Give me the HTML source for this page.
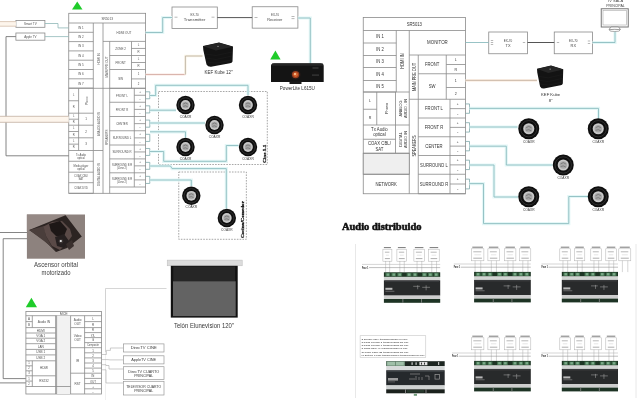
<!DOCTYPE html>
<html><head><meta charset="utf-8"><style>
html,body{margin:0;padding:0;background:#fff;width:640px;height:400px;overflow:hidden}
svg{display:block;filter:blur(0.35px)}

</style></head><body>
<svg width="640" height="400" viewBox="0 0 640 400">
<rect width="640" height="400" fill="#fff"/>
<rect x="68.75" y="13.3" width="76.85" height="180.0" fill="none" stroke="#8a8a8a" stroke-width="0.8" />
<line x1="68.75" y1="23" x2="145.6" y2="23" stroke="#8a8a8a" stroke-width="0.8" />
<text x="107.175" y="19.83" font-size="3.84" fill="#505050" text-anchor="middle" font-family="Liberation Sans"  textLength="11.56" lengthAdjust="spacingAndGlyphs">SR5013</text>
<line x1="68.75" y1="32.3" x2="93.3" y2="32.3" stroke="#8a8a8a" stroke-width="0.8" />
<text x="81" y="28.82" font-size="3.6" fill="#505050" text-anchor="middle" font-family="Liberation Sans"  textLength="5.50" lengthAdjust="spacingAndGlyphs">IN 1</text>
<line x1="68.75" y1="41.6" x2="93.3" y2="41.6" stroke="#8a8a8a" stroke-width="0.8" />
<text x="81" y="38.12" font-size="3.6" fill="#505050" text-anchor="middle" font-family="Liberation Sans"  textLength="5.50" lengthAdjust="spacingAndGlyphs">IN 2</text>
<line x1="68.75" y1="50.900000000000006" x2="93.3" y2="50.900000000000006" stroke="#8a8a8a" stroke-width="0.8" />
<text x="81" y="47.42" font-size="3.6" fill="#505050" text-anchor="middle" font-family="Liberation Sans"  textLength="5.50" lengthAdjust="spacingAndGlyphs">IN 3</text>
<line x1="68.75" y1="60.2" x2="93.3" y2="60.2" stroke="#8a8a8a" stroke-width="0.8" />
<text x="81" y="56.72" font-size="3.6" fill="#505050" text-anchor="middle" font-family="Liberation Sans"  textLength="5.50" lengthAdjust="spacingAndGlyphs">IN 4</text>
<line x1="68.75" y1="69.5" x2="93.3" y2="69.5" stroke="#8a8a8a" stroke-width="0.8" />
<text x="81" y="66.02" font-size="3.6" fill="#505050" text-anchor="middle" font-family="Liberation Sans"  textLength="5.50" lengthAdjust="spacingAndGlyphs">IN 5</text>
<line x1="68.75" y1="78.80000000000001" x2="93.3" y2="78.80000000000001" stroke="#8a8a8a" stroke-width="0.8" />
<text x="81" y="75.32" font-size="3.6" fill="#505050" text-anchor="middle" font-family="Liberation Sans"  textLength="5.50" lengthAdjust="spacingAndGlyphs">IN 6</text>
<line x1="68.75" y1="88.10000000000001" x2="93.3" y2="88.10000000000001" stroke="#8a8a8a" stroke-width="0.8" />
<text x="81" y="84.62" font-size="3.6" fill="#505050" text-anchor="middle" font-family="Liberation Sans"  textLength="5.50" lengthAdjust="spacingAndGlyphs">IN 7</text>
<line x1="93.3" y1="23" x2="93.3" y2="193.3" stroke="#8a8a8a" stroke-width="0.8" />
<line x1="103" y1="23" x2="103" y2="193.3" stroke="#8a8a8a" stroke-width="0.8" />
<text x="0" y="1.3" font-size="3.6" fill="#505050" text-anchor="middle" font-family="Liberation Sans" transform="translate(98.4,59) rotate(-90)"  textLength="11.50" lengthAdjust="spacingAndGlyphs">HDMI IN</text>
<line x1="103" y1="41.4" x2="145.6" y2="41.4" stroke="#8a8a8a" stroke-width="0.8" />
<text x="124" y="33.72" font-size="3.6" fill="#505050" text-anchor="middle" font-family="Liberation Sans"  textLength="14.83" lengthAdjust="spacingAndGlyphs">HDMI OUT</text>
<line x1="109.7" y1="41.4" x2="109.7" y2="193.3" stroke="#8a8a8a" stroke-width="0.8" />
<text x="0" y="1.25" font-size="3.48" fill="#505050" text-anchor="middle" font-family="Liberation Sans" transform="translate(106.6,67) rotate(-90)"  textLength="20.95" lengthAdjust="spacingAndGlyphs">MAIN PRE OUT</text>
<line x1="131.5" y1="41.4" x2="131.5" y2="88.3" stroke="#8a8a8a" stroke-width="0.8" />
<line x1="109.7" y1="55.5" x2="145.6" y2="55.5" stroke="#8a8a8a" stroke-width="0.8" />
<text x="120.6" y="49.77" font-size="3.6" fill="#505050" text-anchor="middle" font-family="Liberation Sans"  textLength="10.84" lengthAdjust="spacingAndGlyphs">ZONE 2</text>
<line x1="131.5" y1="48.45" x2="145.6" y2="48.45" stroke="#8a8a8a" stroke-width="0.8" />
<text x="138.5" y="46.025" font-size="2.8" fill="#505050" text-anchor="middle" font-family="Liberation Sans" >L</text>
<text x="138.5" y="53.075" font-size="2.8" fill="#505050" text-anchor="middle" font-family="Liberation Sans" >R</text>
<line x1="109.7" y1="69.5" x2="145.6" y2="69.5" stroke="#8a8a8a" stroke-width="0.8" />
<text x="120.6" y="63.82" font-size="3.6" fill="#505050" text-anchor="middle" font-family="Liberation Sans"  textLength="10.33" lengthAdjust="spacingAndGlyphs">FRONT</text>
<line x1="131.5" y1="62.5" x2="145.6" y2="62.5" stroke="#8a8a8a" stroke-width="0.8" />
<text x="138.5" y="60.1" font-size="2.8" fill="#505050" text-anchor="middle" font-family="Liberation Sans" >L</text>
<text x="138.5" y="67.1" font-size="2.8" fill="#505050" text-anchor="middle" font-family="Liberation Sans" >R</text>
<line x1="109.7" y1="88.3" x2="145.6" y2="88.3" stroke="#8a8a8a" stroke-width="0.8" />
<text x="120.6" y="80.22" font-size="3.6" fill="#505050" text-anchor="middle" font-family="Liberation Sans"  textLength="4.83" lengthAdjust="spacingAndGlyphs">SW</text>
<line x1="131.5" y1="78.9" x2="145.6" y2="78.9" stroke="#8a8a8a" stroke-width="0.8" />
<text x="138.5" y="75.3" font-size="2.8" fill="#505050" text-anchor="middle" font-family="Liberation Sans" >1</text>
<text x="138.5" y="84.69999999999999" font-size="2.8" fill="#505050" text-anchor="middle" font-family="Liberation Sans" >2</text>
<line x1="68.75" y1="88.3" x2="145.6" y2="88.3" stroke="#8a8a8a" stroke-width="0.8" />
<line x1="78.6" y1="88.3" x2="78.6" y2="150.5" stroke="#8a8a8a" stroke-width="0.8" />
<line x1="68.75" y1="113.2" x2="93.3" y2="113.2" stroke="#8a8a8a" stroke-width="0.8" />
<line x1="68.75" y1="100.75" x2="78.6" y2="100.75" stroke="#8a8a8a" stroke-width="0.8" />
<text x="73.7" y="95.625" font-size="2.6" fill="#505050" text-anchor="middle" font-family="Liberation Sans" >L</text>
<text x="73.7" y="108.07499999999999" font-size="2.6" fill="#505050" text-anchor="middle" font-family="Liberation Sans" >R</text>
<text x="0" y="1.3" font-size="3.6" fill="#505050" text-anchor="middle" font-family="Liberation Sans" transform="translate(86.5,100.75) rotate(-90)"  textLength="8.68" lengthAdjust="spacingAndGlyphs">Phono</text>
<line x1="68.75" y1="125.2" x2="93.3" y2="125.2" stroke="#8a8a8a" stroke-width="0.8" />
<line x1="68.75" y1="119.2" x2="78.6" y2="119.2" stroke="#8a8a8a" stroke-width="0.8" />
<text x="73.7" y="117.3" font-size="2.6" fill="#505050" text-anchor="middle" font-family="Liberation Sans" >L</text>
<text x="73.7" y="123.3" font-size="2.6" fill="#505050" text-anchor="middle" font-family="Liberation Sans" >R</text>
<text x="86" y="120.3" font-size="3" fill="#505050" text-anchor="middle" font-family="Liberation Sans" >1</text>
<line x1="68.75" y1="137.8" x2="93.3" y2="137.8" stroke="#8a8a8a" stroke-width="0.8" />
<line x1="68.75" y1="131.5" x2="78.6" y2="131.5" stroke="#8a8a8a" stroke-width="0.8" />
<text x="73.7" y="129.45" font-size="2.6" fill="#505050" text-anchor="middle" font-family="Liberation Sans" >L</text>
<text x="73.7" y="135.75" font-size="2.6" fill="#505050" text-anchor="middle" font-family="Liberation Sans" >R</text>
<text x="86" y="132.6" font-size="3" fill="#505050" text-anchor="middle" font-family="Liberation Sans" >2</text>
<line x1="68.75" y1="150.5" x2="93.3" y2="150.5" stroke="#8a8a8a" stroke-width="0.8" />
<line x1="68.75" y1="144.15" x2="78.6" y2="144.15" stroke="#8a8a8a" stroke-width="0.8" />
<text x="73.7" y="142.07500000000002" font-size="2.6" fill="#505050" text-anchor="middle" font-family="Liberation Sans" >L</text>
<text x="73.7" y="148.42499999999998" font-size="2.6" fill="#505050" text-anchor="middle" font-family="Liberation Sans" >R</text>
<text x="86" y="145.25" font-size="3" fill="#505050" text-anchor="middle" font-family="Liberation Sans" >3</text>
<line x1="68.75" y1="161.25" x2="93.3" y2="161.25" stroke="#8a8a8a" stroke-width="0.8" />
<text x="81" y="155.66" font-size="3.12" fill="#505050" text-anchor="middle" font-family="Liberation Sans"  textLength="10.12" lengthAdjust="spacingAndGlyphs">Tx Audio</text>
<text x="81" y="158.86" font-size="3.12" fill="#505050" text-anchor="middle" font-family="Liberation Sans"  textLength="7.52" lengthAdjust="spacingAndGlyphs">optical</text>
<line x1="68.75" y1="172.2" x2="93.3" y2="172.2" stroke="#8a8a8a" stroke-width="0.8" />
<text x="81" y="166.51" font-size="3.12" fill="#505050" text-anchor="middle" font-family="Liberation Sans"  textLength="14.89" lengthAdjust="spacingAndGlyphs">Media player</text>
<text x="81" y="169.71" font-size="3.12" fill="#505050" text-anchor="middle" font-family="Liberation Sans"  textLength="7.52" lengthAdjust="spacingAndGlyphs">optical</text>
<line x1="68.75" y1="182.7" x2="93.3" y2="182.7" stroke="#8a8a8a" stroke-width="0.8" />
<text x="81" y="177.24" font-size="3.12" fill="#505050" text-anchor="middle" font-family="Liberation Sans"  textLength="13.87" lengthAdjust="spacingAndGlyphs">COAX CBL/</text>
<text x="81" y="180.44" font-size="3.12" fill="#505050" text-anchor="middle" font-family="Liberation Sans"  textLength="4.86" lengthAdjust="spacingAndGlyphs">SAT</text>
<line x1="68.75" y1="193.3" x2="93.3" y2="193.3" stroke="#8a8a8a" stroke-width="0.8" />
<text x="81" y="189.29" font-size="3.12" fill="#505050" text-anchor="middle" font-family="Liberation Sans"  textLength="13.58" lengthAdjust="spacingAndGlyphs">COAX DVD</text>
<line x1="93.3" y1="150.5" x2="103" y2="150.5" stroke="#8a8a8a" stroke-width="0.8" />
<text x="0" y="1.17" font-size="3.24" fill="#505050" text-anchor="middle" font-family="Liberation Sans" transform="translate(98.6,124) rotate(-90)"  textLength="23.86" lengthAdjust="spacingAndGlyphs">ANALOG AUDIO IN</text>
<text x="0" y="1.17" font-size="3.24" fill="#505050" text-anchor="middle" font-family="Liberation Sans" transform="translate(98.6,174.5) rotate(-90)"  textLength="22.80" lengthAdjust="spacingAndGlyphs">DIGITAL AUDIO IN</text>
<text x="0" y="1.25" font-size="3.48" fill="#505050" text-anchor="middle" font-family="Liberation Sans" transform="translate(106.6,137.5) rotate(-90)"  textLength="15.64" lengthAdjust="spacingAndGlyphs">SPEAKERS</text>
<line x1="134.3" y1="88.3" x2="134.3" y2="187" stroke="#8a8a8a" stroke-width="0.8" />
<line x1="109.7" y1="102.25" x2="145.6" y2="102.25" stroke="#8a8a8a" stroke-width="0.8" />
<line x1="134.3" y1="95.275" x2="145.6" y2="95.275" stroke="#8a8a8a" stroke-width="0.8" />
<text x="140" y="92.88749999999999" font-size="2.8" fill="#505050" text-anchor="middle" font-family="Liberation Sans" >+</text>
<text x="140" y="99.8625" font-size="2.8" fill="#505050" text-anchor="middle" font-family="Liberation Sans" >-</text>
<text x="122" y="96.58" font-size="3.36" fill="#505050" text-anchor="middle" font-family="Liberation Sans"  textLength="11.93" lengthAdjust="spacingAndGlyphs">FRONT L</text>
<line x1="109.7" y1="116.5" x2="145.6" y2="116.5" stroke="#8a8a8a" stroke-width="0.8" />
<line x1="134.3" y1="109.375" x2="145.6" y2="109.375" stroke="#8a8a8a" stroke-width="0.8" />
<text x="140" y="106.9125" font-size="2.8" fill="#505050" text-anchor="middle" font-family="Liberation Sans" >+</text>
<text x="140" y="114.0375" font-size="2.8" fill="#505050" text-anchor="middle" font-family="Liberation Sans" >-</text>
<text x="122" y="110.68" font-size="3.36" fill="#505050" text-anchor="middle" font-family="Liberation Sans"  textLength="12.39" lengthAdjust="spacingAndGlyphs">FRONT R</text>
<line x1="109.7" y1="130.75" x2="145.6" y2="130.75" stroke="#8a8a8a" stroke-width="0.8" />
<line x1="134.3" y1="123.625" x2="145.6" y2="123.625" stroke="#8a8a8a" stroke-width="0.8" />
<text x="140" y="121.1625" font-size="2.8" fill="#505050" text-anchor="middle" font-family="Liberation Sans" >+</text>
<text x="140" y="128.2875" font-size="2.8" fill="#505050" text-anchor="middle" font-family="Liberation Sans" >-</text>
<text x="122" y="124.93" font-size="3.36" fill="#505050" text-anchor="middle" font-family="Liberation Sans"  textLength="11.51" lengthAdjust="spacingAndGlyphs">CENTER</text>
<line x1="109.7" y1="145" x2="145.6" y2="145" stroke="#8a8a8a" stroke-width="0.8" />
<line x1="134.3" y1="137.875" x2="145.6" y2="137.875" stroke="#8a8a8a" stroke-width="0.8" />
<text x="140" y="135.4125" font-size="2.8" fill="#505050" text-anchor="middle" font-family="Liberation Sans" >+</text>
<text x="140" y="142.5375" font-size="2.8" fill="#505050" text-anchor="middle" font-family="Liberation Sans" >-</text>
<text x="122" y="139.18" font-size="3.36" fill="#505050" text-anchor="middle" font-family="Liberation Sans"  textLength="18.51" lengthAdjust="spacingAndGlyphs">SURROUND L</text>
<line x1="109.7" y1="158.9" x2="145.6" y2="158.9" stroke="#8a8a8a" stroke-width="0.8" />
<line x1="134.3" y1="151.95" x2="145.6" y2="151.95" stroke="#8a8a8a" stroke-width="0.8" />
<text x="140" y="149.575" font-size="2.8" fill="#505050" text-anchor="middle" font-family="Liberation Sans" >+</text>
<text x="140" y="156.525" font-size="2.8" fill="#505050" text-anchor="middle" font-family="Liberation Sans" >-</text>
<text x="122" y="153.25" font-size="3.36" fill="#505050" text-anchor="middle" font-family="Liberation Sans"  textLength="18.98" lengthAdjust="spacingAndGlyphs">SURROUND R</text>
<line x1="109.7" y1="172.8" x2="145.6" y2="172.8" stroke="#8a8a8a" stroke-width="0.8" />
<line x1="134.3" y1="165.85000000000002" x2="145.6" y2="165.85000000000002" stroke="#8a8a8a" stroke-width="0.8" />
<text x="140" y="163.475" font-size="2.8" fill="#505050" text-anchor="middle" font-family="Liberation Sans" >+</text>
<text x="140" y="170.425" font-size="2.8" fill="#505050" text-anchor="middle" font-family="Liberation Sans" >-</text>
<text x="122" y="165.64" font-size="3.12" fill="#505050" text-anchor="middle" font-family="Liberation Sans"  textLength="20.08" lengthAdjust="spacingAndGlyphs">SURROUND B R</text>
<text x="122" y="168.84" font-size="3.12" fill="#505050" text-anchor="middle" font-family="Liberation Sans"  textLength="9.83" lengthAdjust="spacingAndGlyphs">(Zone 2)</text>
<line x1="109.7" y1="187" x2="145.6" y2="187" stroke="#8a8a8a" stroke-width="0.8" />
<line x1="134.3" y1="179.9" x2="145.6" y2="179.9" stroke="#8a8a8a" stroke-width="0.8" />
<text x="140" y="177.45000000000002" font-size="2.8" fill="#505050" text-anchor="middle" font-family="Liberation Sans" >+</text>
<text x="140" y="184.54999999999998" font-size="2.8" fill="#505050" text-anchor="middle" font-family="Liberation Sans" >-</text>
<text x="122" y="179.69" font-size="3.12" fill="#505050" text-anchor="middle" font-family="Liberation Sans"  textLength="20.08" lengthAdjust="spacingAndGlyphs">SURROUND B R</text>
<text x="122" y="182.89" font-size="3.12" fill="#505050" text-anchor="middle" font-family="Liberation Sans"  textLength="9.83" lengthAdjust="spacingAndGlyphs">(Zone 2)</text>
<polyline points="145.6,91.7875 149.79999999999998,91.7875 149.79999999999998,98.7625 145.6,98.7625" fill="none" stroke="#7fa9ab" stroke-width="0.8" />
<polyline points="145.6,105.8125 149.79999999999998,105.8125 149.79999999999998,112.9375 145.6,112.9375" fill="none" stroke="#7fa9ab" stroke-width="0.8" />
<polyline points="145.6,120.0625 149.79999999999998,120.0625 149.79999999999998,127.1875 145.6,127.1875" fill="none" stroke="#7fa9ab" stroke-width="0.8" />
<polyline points="145.6,134.3125 149.79999999999998,134.3125 149.79999999999998,141.4375 145.6,141.4375" fill="none" stroke="#7fa9ab" stroke-width="0.8" />
<polyline points="145.6,148.475 149.79999999999998,148.475 149.79999999999998,155.425 145.6,155.425" fill="none" stroke="#7fa9ab" stroke-width="0.8" />
<polyline points="145.6,162.375 149.79999999999998,162.375 149.79999999999998,169.32500000000002 145.6,169.32500000000002" fill="none" stroke="#7fa9ab" stroke-width="0.8" />
<polyline points="145.6,176.35000000000002 149.79999999999998,176.35000000000002 149.79999999999998,183.45 145.6,183.45" fill="none" stroke="#7fa9ab" stroke-width="0.8" />
<rect x="15.9" y="20.5" width="29" height="6.8" fill="none" stroke="#8a8a8a" stroke-width="0.8" />
<text x="30.4" y="25.42" font-size="3.6" fill="#505050" text-anchor="middle" font-family="Liberation Sans"  textLength="12.61" lengthAdjust="spacingAndGlyphs">Smart TV</text>
<rect x="15.9" y="33" width="29" height="7.2" fill="none" stroke="#8a8a8a" stroke-width="0.8" />
<text x="30.4" y="38.12" font-size="3.6" fill="#505050" text-anchor="middle" font-family="Liberation Sans"  textLength="12.29" lengthAdjust="spacingAndGlyphs">Apple TV</text>
<rect x="0" y="21.6" width="15.9" height="4.6" fill="#fdf5ec"/>
<line x1="0" y1="21.6" x2="15.9" y2="21.6" stroke="#d9c4b2" stroke-width="0.9" />
<line x1="0" y1="26.2" x2="15.9" y2="26.2" stroke="#d9c4b2" stroke-width="0.9" />
<polyline points="44.9,23.5 58,23.5 58,27.9 68.75,27.9" fill="none" stroke="#8fb8b8" stroke-width="0.8" />
<line x1="44.9" y1="36.6" x2="68.75" y2="36.6" stroke="#8fb8b8" stroke-width="0.8" />
<polyline points="15.9,36.6 6,36.6 6,155.8 68.75,155.8" fill="none" stroke="#777" stroke-width="0.9" />
<rect x="0" y="116.3" width="68.75" height="6" fill="#fdf5ec"/>
<line x1="0" y1="116.3" x2="68.75" y2="116.3" stroke="#c9b9aa" stroke-width="0.9" />
<line x1="0" y1="122.3" x2="68.75" y2="122.3" stroke="#c9b9aa" stroke-width="0.9" />
<polygon points="72,9.5 82.5,9.5 77.25,1.5" fill="#1fcc2a"/>
<rect x="172" y="7" width="45.3" height="21.4" fill="none" stroke="#8a8a8a" stroke-width="0.8" />
<text x="194.6" y="15.9" font-size="3.6" fill="#444" text-anchor="middle" font-family="Liberation Sans" textLength="8" lengthAdjust="spacingAndGlyphs">EX-70</text>
<text x="194.6" y="21.4" font-size="3.8" fill="#444" text-anchor="middle" font-family="Liberation Sans" textLength="21.5" lengthAdjust="spacingAndGlyphs">Transmitter</text>
<rect x="252.2" y="6.75" width="45.7" height="21.4" fill="none" stroke="#8a8a8a" stroke-width="0.8" />
<text x="275" y="15.9" font-size="3.6" fill="#444" text-anchor="middle" font-family="Liberation Sans" textLength="8" lengthAdjust="spacingAndGlyphs">EX-70</text>
<text x="274.8" y="21.4" font-size="3.8" fill="#444" text-anchor="middle" font-family="Liberation Sans" textLength="15" lengthAdjust="spacingAndGlyphs">Receiver</text>
<line x1="217.3" y1="17.6" x2="252.2" y2="17.6" stroke="#555" stroke-width="1" />
<polyline points="145.6,32.5 162.7,32.5 162.7,17.5 172,17.5" fill="none" stroke="#e4f7f7" stroke-width="3.2" />
<polyline points="145.6,32.5 162.7,32.5 162.7,17.5 172,17.5" fill="none" stroke="#8cbcbf" stroke-width="0.9" />
<polyline points="297.9,18 310.3,18 310.3,63.5" fill="none" stroke="#e4f7f7" stroke-width="3.2" />
<polyline points="297.9,18 310.3,18 310.3,63.5" fill="none" stroke="#8cbcbf" stroke-width="0.9" />
<line x1="174.5" y1="17.2" x2="177.5" y2="17.2" stroke="#888" stroke-width="0.6" />
<line x1="211.5" y1="17.2" x2="214.5" y2="17.2" stroke="#888" stroke-width="0.6" />
<line x1="254.5" y1="17.5" x2="257.5" y2="17.5" stroke="#888" stroke-width="0.6" />
<line x1="291.5" y1="16.5" x2="294.5" y2="16.5" stroke="#888" stroke-width="0.6" />
<line x1="291.5" y1="18.6" x2="294.5" y2="18.6" stroke="#888" stroke-width="0.6" />
<path d="M203.00,46.00 L219.00,42.50 L233.00,46.50 L232.50,61.50 Q232.00,63.00 230.00,63.30 L211.00,66.80 Q208.00,67.00 206.50,64.50 L203.30,50.00 Z" fill="#131313"/>
<polygon points="203.30,46.20 219.00,42.80 232.70,46.70 216.00,50.50" fill="#262626"/>
<path d="M205.00,54.00 L216.00,55.50 L232.00,52.00 M205.50,58.00 L216.00,59.50 L232.00,56.00 M206.00,62.00 L216.00,63.20 L232.00,60.00" stroke="#222" stroke-width="0.4" fill="none"/>
<circle cx="218.00" cy="46.30" r="0.6" fill="#bbb"/>
<text x="218.6" y="73.9" font-size="5" fill="#333" text-anchor="middle" font-family="Liberation Sans" textLength="28" lengthAdjust="spacingAndGlyphs">KEF Kube 12"</text>
<polyline points="145.6,74.5 185.4,74.5" fill="none" stroke="#fbeeea" stroke-width="2.6" />
<polyline points="145.6,74.5 185.4,74.5" fill="none" stroke="#d6aea6" stroke-width="0.9" />
<polyline points="185.4,74.5 185.4,56 202.5,56" fill="none" stroke="#fbf5e8" stroke-width="2.6" />
<polyline points="185.4,74.5 185.4,56 202.5,56" fill="none" stroke="#bdb4a4" stroke-width="0.9" />
<polygon points="270.2,59.6 280.6,59.6 275.4,50.6" fill="#1fcc2a"/>
<path d="M271,66 Q271,63.2 274,63.2 L320.5,63.2 Q323.7,63.2 323.7,66 L323.7,81.9 L271,81.9 Z" fill="#141414"/>
<rect x="272" y="63.6" width="51" height="2.2" fill="#262626"/>
<rect x="289.5" y="81.5" width="12" height="2.5" fill="#1a1a1a"/>
<circle cx="295.6" cy="74.6" r="5.2" fill="#201816"/><circle cx="295.6" cy="74.6" r="3.7" fill="#9a3e1e"/><circle cx="295.6" cy="74.6" r="2.4" fill="#d8642e"/><circle cx="295" cy="74" r="1" fill="#ffd0a0"/>
<rect x="312.5" y="67.5" width="6" height="1" fill="#444"/><rect x="312" y="74.5" width="7" height="1.2" fill="#3a3a3a"/>
<text x="297.3" y="89.8" font-size="5" fill="#333" text-anchor="middle" font-family="Liberation Sans" textLength="35" lengthAdjust="spacingAndGlyphs">PowerLite L615U</text>
<rect x="158.5" y="91.5" width="108.8" height="73" fill="none" stroke="#8a8a8a" stroke-width="0.75" stroke-dasharray="1.6 1.2"/>
<rect x="178.75" y="172" width="67.6" height="67.3" fill="none" stroke="#8a8a8a" stroke-width="0.75" stroke-dasharray="1.6 1.2"/>
<text x="0" y="0" font-size="5" fill="#111" text-anchor="middle" font-family="Liberation Serif" transform="translate(265.6,153.8) rotate(-90)" font-weight="bold" stroke="#111" stroke-width="0.25" textLength="18.5" lengthAdjust="spacingAndGlyphs">Cine 5.1</text>
<text x="0" y="0" font-size="4.4" fill="#111" text-anchor="middle" font-family="Liberation Serif" transform="translate(244,219.6) rotate(-90)" font-weight="bold" stroke="#111" stroke-width="0.25" textLength="37" lengthAdjust="spacingAndGlyphs">Cocina/Comedor</text>
<polyline points="150,95.5 155.7,95.5 155.7,85.3 248,85.3 248,95" fill="none" stroke="#e4f7f7" stroke-width="3.2" />
<polyline points="150,95.5 155.7,95.5 155.7,85.3 248,85.3 248,95" fill="none" stroke="#8cbcbf" stroke-width="0.9" />
<polyline points="150,110.2 176,110.2" fill="none" stroke="#e4f7f7" stroke-width="3.2" />
<polyline points="150,110.2 176,110.2" fill="none" stroke="#8cbcbf" stroke-width="0.9" />
<polyline points="150,123 205,123" fill="none" stroke="#e4f7f7" stroke-width="3.2" />
<polyline points="150,123 205,123" fill="none" stroke="#8cbcbf" stroke-width="0.9" />
<polyline points="150,131.8 185.5,131.8 185.5,137.5" fill="none" stroke="#e4f7f7" stroke-width="3.2" />
<polyline points="150,131.8 185.5,131.8 185.5,137.5" fill="none" stroke="#8cbcbf" stroke-width="0.9" />
<polyline points="150,151.5 163.7,151.5 163.7,161.3 226.3,161.3 226.3,145.5 238.5,145.5" fill="none" stroke="#e4f7f7" stroke-width="3.2" />
<polyline points="150,151.5 163.7,151.5 163.7,161.3 226.3,161.3 226.3,145.5 238.5,145.5" fill="none" stroke="#8cbcbf" stroke-width="0.9" />
<polyline points="150,166 170.5,166 172,168.6 226.3,168.6 226.3,208.5" fill="none" stroke="#e4f7f7" stroke-width="3.2" />
<polyline points="150,166 170.5,166 172,168.6 226.3,168.6 226.3,208.5" fill="none" stroke="#8cbcbf" stroke-width="0.9" />
<polyline points="150,180 191.3,180 191.3,186" fill="none" stroke="#e4f7f7" stroke-width="3.2" />
<polyline points="150,180 191.3,180 191.3,186" fill="none" stroke="#8cbcbf" stroke-width="0.9" />
<circle cx="185.5" cy="105" r="9.2" fill="#0e0e0e"/>
<circle cx="185.5" cy="105" r="7.175999999999999" fill="none" stroke="#3c3c3c" stroke-width="0.7"/>
<circle cx="185.5" cy="105" r="4.8759999999999994" fill="#c9c9c9"/>
<circle cx="185.5" cy="105" r="3.312" fill="#a8a8a8"/>
<path d="M183.2,104.08 Q185.5,101.78 187.8,104.08 M183.2,106.38 Q185.5,105.0 187.8,106.84" stroke="#555" stroke-width="0.5" fill="none"/>
<text x="185.5" y="117.60000000000001" font-size="3.3" fill="#333" text-anchor="middle" font-family="Liberation Sans" textLength="11.5" lengthAdjust="spacingAndGlyphs">COAXR</text>
<circle cx="248" cy="105" r="9.2" fill="#0e0e0e"/>
<circle cx="248" cy="105" r="7.175999999999999" fill="none" stroke="#3c3c3c" stroke-width="0.7"/>
<circle cx="248" cy="105" r="4.8759999999999994" fill="#c9c9c9"/>
<circle cx="248" cy="105" r="3.312" fill="#a8a8a8"/>
<path d="M245.7,104.08 Q248,101.78 250.3,104.08 M245.7,106.38 Q248,105.0 250.3,106.84" stroke="#555" stroke-width="0.5" fill="none"/>
<text x="248" y="117.60000000000001" font-size="3.3" fill="#333" text-anchor="middle" font-family="Liberation Sans" textLength="11.5" lengthAdjust="spacingAndGlyphs">COAXR</text>
<circle cx="214.5" cy="125" r="9.2" fill="#0e0e0e"/>
<circle cx="214.5" cy="125" r="7.175999999999999" fill="none" stroke="#3c3c3c" stroke-width="0.7"/>
<circle cx="214.5" cy="125" r="4.8759999999999994" fill="#c9c9c9"/>
<circle cx="214.5" cy="125" r="3.312" fill="#a8a8a8"/>
<path d="M212.2,124.08 Q214.5,121.78 216.8,124.08 M212.2,126.38 Q214.5,125.0 216.8,126.84" stroke="#555" stroke-width="0.5" fill="none"/>
<text x="214.5" y="137.6" font-size="3.3" fill="#333" text-anchor="middle" font-family="Liberation Sans" textLength="11.5" lengthAdjust="spacingAndGlyphs">COAXR</text>
<circle cx="185.5" cy="147" r="9.2" fill="#0e0e0e"/>
<circle cx="185.5" cy="147" r="7.175999999999999" fill="none" stroke="#3c3c3c" stroke-width="0.7"/>
<circle cx="185.5" cy="147" r="4.8759999999999994" fill="#c9c9c9"/>
<circle cx="185.5" cy="147" r="3.312" fill="#a8a8a8"/>
<path d="M183.2,146.08 Q185.5,143.78 187.8,146.08 M183.2,148.38 Q185.5,147.0 187.8,148.84" stroke="#555" stroke-width="0.5" fill="none"/>
<text x="185.5" y="159.6" font-size="3.3" fill="#333" text-anchor="middle" font-family="Liberation Sans" textLength="11.5" lengthAdjust="spacingAndGlyphs">COAXR</text>
<circle cx="248" cy="147" r="9.2" fill="#0e0e0e"/>
<circle cx="248" cy="147" r="7.175999999999999" fill="none" stroke="#3c3c3c" stroke-width="0.7"/>
<circle cx="248" cy="147" r="4.8759999999999994" fill="#c9c9c9"/>
<circle cx="248" cy="147" r="3.312" fill="#a8a8a8"/>
<path d="M245.7,146.08 Q248,143.78 250.3,146.08 M245.7,148.38 Q248,147.0 250.3,148.84" stroke="#555" stroke-width="0.5" fill="none"/>
<text x="248" y="159.6" font-size="3.3" fill="#333" text-anchor="middle" font-family="Liberation Sans" textLength="11.5" lengthAdjust="spacingAndGlyphs">COAXR</text>
<circle cx="191.3" cy="195.8" r="9.2" fill="#0e0e0e"/>
<circle cx="191.3" cy="195.8" r="7.175999999999999" fill="none" stroke="#3c3c3c" stroke-width="0.7"/>
<circle cx="191.3" cy="195.8" r="4.8759999999999994" fill="#c9c9c9"/>
<circle cx="191.3" cy="195.8" r="3.312" fill="#a8a8a8"/>
<path d="M189.0,194.88000000000002 Q191.3,192.58 193.60000000000002,194.88000000000002 M189.0,197.18 Q191.3,195.8 193.60000000000002,197.64000000000001" stroke="#555" stroke-width="0.5" fill="none"/>
<text x="191.3" y="208.4" font-size="3.3" fill="#333" text-anchor="middle" font-family="Liberation Sans" textLength="11.5" lengthAdjust="spacingAndGlyphs">COAXR</text>
<circle cx="226.8" cy="218" r="9.2" fill="#0e0e0e"/>
<circle cx="226.8" cy="218" r="7.175999999999999" fill="none" stroke="#3c3c3c" stroke-width="0.7"/>
<circle cx="226.8" cy="218" r="4.8759999999999994" fill="#c9c9c9"/>
<circle cx="226.8" cy="218" r="3.312" fill="#a8a8a8"/>
<path d="M224.5,217.08 Q226.8,214.78 229.10000000000002,217.08 M224.5,219.38 Q226.8,218.0 229.10000000000002,219.84" stroke="#555" stroke-width="0.5" fill="none"/>
<text x="226.8" y="230.6" font-size="3.3" fill="#333" text-anchor="middle" font-family="Liberation Sans" textLength="11.5" lengthAdjust="spacingAndGlyphs">COAXR</text>
<rect x="363.25" y="17.5" width="102.25" height="176.25" fill="none" stroke="#8a8a8a" stroke-width="0.8" />
<line x1="363.25" y1="30.5" x2="465.5" y2="30.5" stroke="#8a8a8a" stroke-width="0.8" />
<text x="414.375" y="26.23" font-size="4.83" fill="#333333" text-anchor="middle" font-family="Liberation Sans"  textLength="15.18" lengthAdjust="spacingAndGlyphs">SR5013</text>
<line x1="363.25" y1="43" x2="396.25" y2="43" stroke="#8a8a8a" stroke-width="0.8" />
<text x="380" y="38.48" font-size="4.83" fill="#333333" text-anchor="middle" font-family="Liberation Sans"  textLength="7.70" lengthAdjust="spacingAndGlyphs">IN 1</text>
<line x1="363.25" y1="55.5" x2="396.25" y2="55.5" stroke="#8a8a8a" stroke-width="0.8" />
<text x="380" y="50.98" font-size="4.83" fill="#333333" text-anchor="middle" font-family="Liberation Sans"  textLength="7.70" lengthAdjust="spacingAndGlyphs">IN 2</text>
<line x1="363.25" y1="67.5" x2="396.25" y2="67.5" stroke="#8a8a8a" stroke-width="0.8" />
<text x="380" y="63.23" font-size="4.83" fill="#333333" text-anchor="middle" font-family="Liberation Sans"  textLength="7.70" lengthAdjust="spacingAndGlyphs">IN 3</text>
<line x1="363.25" y1="80.5" x2="396.25" y2="80.5" stroke="#8a8a8a" stroke-width="0.8" />
<text x="380" y="75.73" font-size="4.83" fill="#333333" text-anchor="middle" font-family="Liberation Sans"  textLength="7.70" lengthAdjust="spacingAndGlyphs">IN 4</text>
<line x1="363.25" y1="92" x2="396.25" y2="92" stroke="#8a8a8a" stroke-width="0.8" />
<text x="380" y="87.98" font-size="4.83" fill="#333333" text-anchor="middle" font-family="Liberation Sans"  textLength="7.70" lengthAdjust="spacingAndGlyphs">IN 5</text>
<line x1="396.25" y1="30.5" x2="396.25" y2="92" stroke="#8a8a8a" stroke-width="0.8" />
<line x1="409.25" y1="30.5" x2="409.25" y2="193.75" stroke="#8a8a8a" stroke-width="0.8" />
<text x="0" y="1.66" font-size="4.6" fill="#333333" text-anchor="middle" font-family="Liberation Sans" transform="translate(402.8,61) rotate(-90)"  textLength="15.33" lengthAdjust="spacingAndGlyphs">HDMI IN</text>
<line x1="409.25" y1="55" x2="465.5" y2="55" stroke="#8a8a8a" stroke-width="0.8" />
<text x="437.4" y="44.44" font-size="5.06" fill="#333333" text-anchor="middle" font-family="Liberation Sans"  textLength="20.70" lengthAdjust="spacingAndGlyphs">MONITOR</text>
<line x1="418.25" y1="55" x2="418.25" y2="193.75" stroke="#8a8a8a" stroke-width="0.8" />
<text x="0" y="1.61" font-size="4.48" fill="#333333" text-anchor="middle" font-family="Liberation Sans" transform="translate(413.9,77) rotate(-90)"  textLength="28.17" lengthAdjust="spacingAndGlyphs">MAIN PRE OUT</text>
<line x1="446.25" y1="55" x2="446.25" y2="99.25" stroke="#8a8a8a" stroke-width="0.8" />
<line x1="418.25" y1="73.75" x2="465.5" y2="73.75" stroke="#8a8a8a" stroke-width="0.8" />
<text x="432.2" y="66.23" font-size="4.83" fill="#333333" text-anchor="middle" font-family="Liberation Sans"  textLength="14.46" lengthAdjust="spacingAndGlyphs">FRONT</text>
<line x1="446.25" y1="64.5" x2="465.5" y2="64.5" stroke="#8a8a8a" stroke-width="0.8" />
<text x="455.8" y="61.3" font-size="3.6" fill="#333333" text-anchor="middle" font-family="Liberation Sans" >L</text>
<text x="455.8" y="70.6" font-size="3.6" fill="#333333" text-anchor="middle" font-family="Liberation Sans" >R</text>
<text x="432.2" y="88.23" font-size="4.83" fill="#333333" text-anchor="middle" font-family="Liberation Sans"  textLength="6.77" lengthAdjust="spacingAndGlyphs">SW</text>
<line x1="446.25" y1="87.5" x2="465.5" y2="87.5" stroke="#8a8a8a" stroke-width="0.8" />
<text x="455.8" y="82.2" font-size="3.6" fill="#333333" text-anchor="middle" font-family="Liberation Sans" >1</text>
<text x="455.8" y="95" font-size="3.6" fill="#333333" text-anchor="middle" font-family="Liberation Sans" >2</text>
<line x1="409.25" y1="99.25" x2="465.5" y2="99.25" stroke="#8a8a8a" stroke-width="0.8" />
<line x1="363.25" y1="92" x2="409.25" y2="92" stroke="#8a8a8a" stroke-width="0.8" />
<line x1="376.75" y1="92" x2="376.75" y2="125" stroke="#8a8a8a" stroke-width="0.8" />
<line x1="363.25" y1="109.25" x2="376.75" y2="109.25" stroke="#8a8a8a" stroke-width="0.8" />
<text x="370" y="102.2" font-size="3.6" fill="#333333" text-anchor="middle" font-family="Liberation Sans" >L</text>
<text x="370" y="118.5" font-size="3.6" fill="#333333" text-anchor="middle" font-family="Liberation Sans" >R</text>
<line x1="395.5" y1="92" x2="395.5" y2="153.25" stroke="#8a8a8a" stroke-width="0.8" />
<text x="0" y="1.57" font-size="4.37" fill="#333333" text-anchor="middle" font-family="Liberation Sans" transform="translate(386.5,108.5) rotate(-90)"  textLength="10.99" lengthAdjust="spacingAndGlyphs">Phono</text>
<text x="0" y="1.57" font-size="4.37" fill="#333333" text-anchor="middle" font-family="Liberation Sans" transform="translate(400.4,108.5) rotate(-90)"  textLength="15.84" lengthAdjust="spacingAndGlyphs">ANALOG</text>
<line x1="363.25" y1="125" x2="409.25" y2="125" stroke="#8a8a8a" stroke-width="0.8" />
<text x="379.4" y="131.03" font-size="4.94" fill="#333333" text-anchor="middle" font-family="Liberation Sans"  textLength="16.73" lengthAdjust="spacingAndGlyphs">Tx Audio</text>
<text x="379.4" y="136.43" font-size="4.94" fill="#333333" text-anchor="middle" font-family="Liberation Sans"  textLength="12.43" lengthAdjust="spacingAndGlyphs">optical</text>
<line x1="363.25" y1="139.25" x2="395.5" y2="139.25" stroke="#8a8a8a" stroke-width="0.8" />
<text x="379.4" y="145.13" font-size="4.94" fill="#333333" text-anchor="middle" font-family="Liberation Sans"  textLength="22.94" lengthAdjust="spacingAndGlyphs">COAX CBL/</text>
<text x="379.4" y="150.53" font-size="4.94" fill="#333333" text-anchor="middle" font-family="Liberation Sans"  textLength="8.04" lengthAdjust="spacingAndGlyphs">SAT</text>
<text x="0" y="1.57" font-size="4.37" fill="#333333" text-anchor="middle" font-family="Liberation Sans" transform="translate(400.4,139.5) rotate(-90)"  textLength="14.50" lengthAdjust="spacingAndGlyphs">DIGITAL</text>
<text x="0" y="1.57" font-size="4.37" fill="#333333" text-anchor="middle" font-family="Liberation Sans" transform="translate(405.3,139.5) rotate(-90)"  textLength="16.89" lengthAdjust="spacingAndGlyphs">AUDIO IN</text>
<text x="0" y="1.57" font-size="4.37" fill="#333333" text-anchor="middle" font-family="Liberation Sans" transform="translate(405.3,108.5) rotate(-90)"  textLength="19.21" lengthAdjust="spacingAndGlyphs">AUDIO - IN</text>
<rect x="363.25" y="153.25" width="46.0" height="21" fill="#efefef" stroke="#8a8a8a" stroke-width="0.8" />
<line x1="363.25" y1="153.25" x2="409.25" y2="153.25" stroke="#8a8a8a" stroke-width="0.8" />
<line x1="363.25" y1="174.25" x2="409.25" y2="174.25" stroke="#8a8a8a" stroke-width="0.8" />
<text x="386.2" y="185.73" font-size="4.83" fill="#333333" text-anchor="middle" font-family="Liberation Sans"  textLength="21.47" lengthAdjust="spacingAndGlyphs">NETWORK</text>
<text x="0" y="1.61" font-size="4.48" fill="#333333" text-anchor="middle" font-family="Liberation Sans" transform="translate(413.9,146) rotate(-90)"  textLength="21.03" lengthAdjust="spacingAndGlyphs">SPEAKERS</text>
<line x1="450" y1="99.25" x2="450" y2="193.75" stroke="#8a8a8a" stroke-width="0.8" />
<line x1="418.25" y1="118" x2="465.5" y2="118" stroke="#8a8a8a" stroke-width="0.8" />
<line x1="450" y1="108.625" x2="465.5" y2="108.625" stroke="#8a8a8a" stroke-width="0.8" />
<text x="434" y="110.35" font-size="4.83" fill="#333333" text-anchor="middle" font-family="Liberation Sans"  textLength="17.89" lengthAdjust="spacingAndGlyphs">FRONT L</text>
<text x="457.7" y="105.1375" font-size="3.2" fill="#333333" text-anchor="middle" font-family="Liberation Sans" >+</text>
<text x="457.7" y="114.5125" font-size="3.2" fill="#333333" text-anchor="middle" font-family="Liberation Sans" >-</text>
<polyline points="465.5,103.9375 469.5,103.9375 469.5,113.3125 465.5,113.3125" fill="none" stroke="#7fa9ab" stroke-width="0.8" />
<line x1="418.25" y1="136.75" x2="465.5" y2="136.75" stroke="#8a8a8a" stroke-width="0.8" />
<line x1="450" y1="127.375" x2="465.5" y2="127.375" stroke="#8a8a8a" stroke-width="0.8" />
<text x="434" y="129.1" font-size="4.83" fill="#333333" text-anchor="middle" font-family="Liberation Sans"  textLength="18.59" lengthAdjust="spacingAndGlyphs">FRONT R</text>
<text x="457.7" y="123.8875" font-size="3.2" fill="#333333" text-anchor="middle" font-family="Liberation Sans" >+</text>
<text x="457.7" y="133.2625" font-size="3.2" fill="#333333" text-anchor="middle" font-family="Liberation Sans" >-</text>
<polyline points="465.5,122.6875 469.5,122.6875 469.5,132.0625 465.5,132.0625" fill="none" stroke="#7fa9ab" stroke-width="0.8" />
<line x1="418.25" y1="155.5" x2="465.5" y2="155.5" stroke="#8a8a8a" stroke-width="0.8" />
<line x1="450" y1="146.125" x2="465.5" y2="146.125" stroke="#8a8a8a" stroke-width="0.8" />
<text x="434" y="147.85" font-size="4.83" fill="#333333" text-anchor="middle" font-family="Liberation Sans"  textLength="17.27" lengthAdjust="spacingAndGlyphs">CENTER</text>
<text x="457.7" y="142.6375" font-size="3.2" fill="#333333" text-anchor="middle" font-family="Liberation Sans" >+</text>
<text x="457.7" y="152.0125" font-size="3.2" fill="#333333" text-anchor="middle" font-family="Liberation Sans" >-</text>
<polyline points="465.5,141.4375 469.5,141.4375 469.5,150.8125 465.5,150.8125" fill="none" stroke="#7fa9ab" stroke-width="0.8" />
<line x1="418.25" y1="174.25" x2="465.5" y2="174.25" stroke="#8a8a8a" stroke-width="0.8" />
<line x1="450" y1="164.875" x2="465.5" y2="164.875" stroke="#8a8a8a" stroke-width="0.8" />
<text x="434" y="166.6" font-size="4.83" fill="#333333" text-anchor="middle" font-family="Liberation Sans"  textLength="27.77" lengthAdjust="spacingAndGlyphs">SURROUND L</text>
<text x="457.7" y="161.3875" font-size="3.2" fill="#333333" text-anchor="middle" font-family="Liberation Sans" >+</text>
<text x="457.7" y="170.7625" font-size="3.2" fill="#333333" text-anchor="middle" font-family="Liberation Sans" >-</text>
<polyline points="465.5,160.1875 469.5,160.1875 469.5,169.5625 465.5,169.5625" fill="none" stroke="#7fa9ab" stroke-width="0.8" />
<line x1="418.25" y1="193.75" x2="465.5" y2="193.75" stroke="#8a8a8a" stroke-width="0.8" />
<line x1="450" y1="184.0" x2="465.5" y2="184.0" stroke="#8a8a8a" stroke-width="0.8" />
<text x="434" y="185.73" font-size="4.83" fill="#333333" text-anchor="middle" font-family="Liberation Sans"  textLength="28.47" lengthAdjust="spacingAndGlyphs">SURROUND R</text>
<text x="457.7" y="180.325" font-size="3.2" fill="#333333" text-anchor="middle" font-family="Liberation Sans" >+</text>
<text x="457.7" y="190.075" font-size="3.2" fill="#333333" text-anchor="middle" font-family="Liberation Sans" >-</text>
<polyline points="465.5,179.125 469.5,179.125 469.5,188.875 465.5,188.875" fill="none" stroke="#7fa9ab" stroke-width="0.8" />
<rect x="488.75" y="32" width="38.75" height="21.75" fill="none" stroke="#8a8a8a" stroke-width="0.8" />
<text x="508" y="41.8" font-size="3.9" fill="#444" text-anchor="middle" font-family="Liberation Sans" textLength="8.5" lengthAdjust="spacingAndGlyphs">EX-70</text>
<text x="508" y="47" font-size="3.9" fill="#444" text-anchor="middle" font-family="Liberation Sans" >TX</text>
<rect x="554.25" y="32" width="38.25" height="21.75" fill="none" stroke="#8a8a8a" stroke-width="0.8" />
<text x="573.3" y="41.8" font-size="3.9" fill="#444" text-anchor="middle" font-family="Liberation Sans" textLength="8.5" lengthAdjust="spacingAndGlyphs">EX-70</text>
<text x="573.3" y="47" font-size="3.9" fill="#444" text-anchor="middle" font-family="Liberation Sans" >RX</text>
<line x1="527.5" y1="42.5" x2="554.25" y2="42.5" stroke="#555" stroke-width="1" />
<line x1="465.5" y1="42.5" x2="488.75" y2="42.5" stroke="#8cbcbf" stroke-width="0.9" />
<polyline points="592.5,42.5 615,42.5 615,31.3" fill="none" stroke="#e4f7f7" stroke-width="3.2" />
<polyline points="592.5,42.5 615,42.5 615,31.3" fill="none" stroke="#8cbcbf" stroke-width="0.9" />
<line x1="490.8" y1="40.5" x2="493.2" y2="40.5" stroke="#888" stroke-width="0.6" />
<line x1="490.8" y1="42.5" x2="493.2" y2="42.5" stroke="#888" stroke-width="0.6" />
<line x1="490.8" y1="44.5" x2="493.2" y2="44.5" stroke="#888" stroke-width="0.6" />
<line x1="522.8" y1="42.5" x2="525.2" y2="42.5" stroke="#888" stroke-width="0.6" />
<line x1="556.8" y1="42.5" x2="559.2" y2="42.5" stroke="#888" stroke-width="0.6" />
<line x1="587.8" y1="41" x2="590.2" y2="41" stroke="#888" stroke-width="0.6" />
<line x1="587.8" y1="43.5" x2="590.2" y2="43.5" stroke="#888" stroke-width="0.6" />
<rect x="601.25" y="8.75" width="27" height="18.25" fill="#fff" stroke="#777" stroke-width="1"/>
<rect x="603" y="10.5" width="23.5" height="14.5" fill="none" stroke="#aaa" stroke-width="0.6"/>
<path d="M611,27 L609,29.5 L620.5,29.5 L618.5,27 Z" fill="#fff" stroke="#777" stroke-width="0.7"/>
<ellipse cx="614.7" cy="30.4" rx="5.2" ry="1.1" fill="#fff" stroke="#777" stroke-width="0.6"/>
<text x="615" y="2.4" font-size="3.9" fill="#444" text-anchor="middle" font-family="Liberation Sans" >TV SALA</text>
<text x="615.5" y="7.1" font-size="3.9" fill="#444" text-anchor="middle" font-family="Liberation Sans" textLength="18.5" lengthAdjust="spacingAndGlyphs">PRINCIPAL</text>
<path d="M537.00,68.82 L551.00,65.50 L563.25,69.30 L562.81,83.53 Q562.38,84.95 560.62,85.24 L544.00,88.56 Q541.38,88.75 540.06,86.38 L537.26,72.62 Z" fill="#131313"/>
<polygon points="537.26,69.01 551.00,65.78 562.99,69.49 548.38,73.09" fill="#262626"/>
<path d="M538.75,76.41 L548.38,77.84 L562.38,74.52 M539.19,80.21 L548.38,81.63 L562.38,78.31 M539.62,84.01 L548.38,85.14 L562.38,82.11" stroke="#222" stroke-width="0.4" fill="none"/>
<circle cx="550.12" cy="69.11" r="0.6" fill="#bbb"/>
<text x="550.6" y="96.4" font-size="4.2" fill="#333" text-anchor="middle" font-family="Liberation Sans" >KEF Kube</text>
<text x="550.6" y="101.8" font-size="4.2" fill="#333" text-anchor="middle" font-family="Liberation Sans" >8"</text>
<polyline points="465.5,80.4 537,80.4" fill="none" stroke="#fbefe4" stroke-width="2.6" />
<polyline points="465.5,80.4 537,80.4" fill="none" stroke="#c9b6a4" stroke-width="0.9" />
<polyline points="469.5,108.4 598.5,108.4 598.5,118.5" fill="none" stroke="#e4f7f7" stroke-width="3.2" />
<polyline points="469.5,108.4 598.5,108.4 598.5,118.5" fill="none" stroke="#8cbcbf" stroke-width="0.9" />
<polyline points="469.5,127 517.5,127" fill="none" stroke="#e4f7f7" stroke-width="3.2" />
<polyline points="469.5,127 517.5,127" fill="none" stroke="#8cbcbf" stroke-width="0.9" />
<polyline points="469.5,146.2 506.3,146.2 506.3,165 552.5,165" fill="none" stroke="#e4f7f7" stroke-width="3.2" />
<polyline points="469.5,146.2 506.3,146.2 506.3,165 552.5,165" fill="none" stroke="#8cbcbf" stroke-width="0.9" />
<polyline points="469.5,165 494,165 494,197 518,197" fill="none" stroke="#e4f7f7" stroke-width="3.2" />
<polyline points="469.5,165 494,165 494,197 518,197" fill="none" stroke="#8cbcbf" stroke-width="0.9" />
<polyline points="469.5,183.6 483.5,183.6 483.5,223.6 568.8,223.6 568.8,196.5 588,196.5" fill="none" stroke="#e4f7f7" stroke-width="3.2" />
<polyline points="469.5,183.6 483.5,183.6 483.5,223.6 568.8,223.6 568.8,196.5 588,196.5" fill="none" stroke="#8cbcbf" stroke-width="0.9" />
<circle cx="528.75" cy="128.75" r="10.5" fill="#0e0e0e"/>
<circle cx="528.75" cy="128.75" r="8.19" fill="none" stroke="#3c3c3c" stroke-width="0.7"/>
<circle cx="528.75" cy="128.75" r="5.565" fill="#c9c9c9"/>
<circle cx="528.75" cy="128.75" r="3.78" fill="#a8a8a8"/>
<path d="M526.125,127.7 Q528.75,125.075 531.375,127.7 M526.125,130.325 Q528.75,128.75 531.375,130.85" stroke="#555" stroke-width="0.5" fill="none"/>
<text x="528.75" y="142.65" font-size="3.3" fill="#333" text-anchor="middle" font-family="Liberation Sans" textLength="11.5" lengthAdjust="spacingAndGlyphs">COAXR</text>
<circle cx="598.25" cy="128.75" r="10.5" fill="#0e0e0e"/>
<circle cx="598.25" cy="128.75" r="8.19" fill="none" stroke="#3c3c3c" stroke-width="0.7"/>
<circle cx="598.25" cy="128.75" r="5.565" fill="#c9c9c9"/>
<circle cx="598.25" cy="128.75" r="3.78" fill="#a8a8a8"/>
<path d="M595.625,127.7 Q598.25,125.075 600.875,127.7 M595.625,130.325 Q598.25,128.75 600.875,130.85" stroke="#555" stroke-width="0.5" fill="none"/>
<text x="598.25" y="142.65" font-size="3.3" fill="#333" text-anchor="middle" font-family="Liberation Sans" textLength="11.5" lengthAdjust="spacingAndGlyphs">COAXR</text>
<circle cx="563.25" cy="165" r="10.5" fill="#0e0e0e"/>
<circle cx="563.25" cy="165" r="8.19" fill="none" stroke="#3c3c3c" stroke-width="0.7"/>
<circle cx="563.25" cy="165" r="5.565" fill="#c9c9c9"/>
<circle cx="563.25" cy="165" r="3.78" fill="#a8a8a8"/>
<path d="M560.625,163.95 Q563.25,161.325 565.875,163.95 M560.625,166.575 Q563.25,165.0 565.875,167.1" stroke="#555" stroke-width="0.5" fill="none"/>
<text x="563.25" y="178.9" font-size="3.3" fill="#333" text-anchor="middle" font-family="Liberation Sans" textLength="11.5" lengthAdjust="spacingAndGlyphs">COAXR</text>
<circle cx="528.75" cy="196.75" r="10.5" fill="#0e0e0e"/>
<circle cx="528.75" cy="196.75" r="8.19" fill="none" stroke="#3c3c3c" stroke-width="0.7"/>
<circle cx="528.75" cy="196.75" r="5.565" fill="#c9c9c9"/>
<circle cx="528.75" cy="196.75" r="3.78" fill="#a8a8a8"/>
<path d="M526.125,195.7 Q528.75,193.075 531.375,195.7 M526.125,198.325 Q528.75,196.75 531.375,198.85" stroke="#555" stroke-width="0.5" fill="none"/>
<text x="528.75" y="210.65" font-size="3.3" fill="#333" text-anchor="middle" font-family="Liberation Sans" textLength="11.5" lengthAdjust="spacingAndGlyphs">COAXR</text>
<circle cx="598.25" cy="196.75" r="10.5" fill="#0e0e0e"/>
<circle cx="598.25" cy="196.75" r="8.19" fill="none" stroke="#3c3c3c" stroke-width="0.7"/>
<circle cx="598.25" cy="196.75" r="5.565" fill="#c9c9c9"/>
<circle cx="598.25" cy="196.75" r="3.78" fill="#a8a8a8"/>
<path d="M595.625,195.7 Q598.25,193.075 600.875,195.7 M595.625,198.325 Q598.25,196.75 600.875,198.85" stroke="#555" stroke-width="0.5" fill="none"/>
<text x="598.25" y="210.65" font-size="3.3" fill="#333" text-anchor="middle" font-family="Liberation Sans" textLength="11.5" lengthAdjust="spacingAndGlyphs">COAXR</text>
<text x="341.9" y="229.6" font-size="9.4" font-weight="bold" fill="#111" stroke="#111" stroke-width="0.5" font-family="Liberation Serif" textLength="79.6" lengthAdjust="spacingAndGlyphs">Audio distribuido</text>
<line x1="355.5" y1="244" x2="355.5" y2="398" stroke="#e2e2e2" stroke-width="0.8" />
<line x1="636" y1="244" x2="636" y2="398" stroke="#e2e2e2" stroke-width="0.8" />
<line x1="383.9" y1="247.6" x2="390.9" y2="247.6" stroke="#555" stroke-width="0.8" />
<rect x="382.9" y="249.2" width="9" height="12" fill="#fff" stroke="#b0b0b0" stroke-width="0.5" />
<line x1="384.9" y1="252.2" x2="389.4" y2="252.2" stroke="#888" stroke-width="0.6" />
<line x1="385.9" y1="255.2" x2="388.9" y2="255.2" stroke="#ccc" stroke-width="0.5" />
<line x1="384.9" y1="258.6" x2="389.9" y2="258.6" stroke="#777" stroke-width="0.6" />
<line x1="385.59999999999997" y1="261.0" x2="385.59999999999997" y2="272.5" stroke="#999" stroke-width="0.4" />
<line x1="389.65" y1="261.0" x2="389.65" y2="272.5" stroke="#999" stroke-width="0.4" />
<line x1="397.9" y1="247.6" x2="405.7" y2="247.6" stroke="#555" stroke-width="0.8" />
<rect x="396.9" y="249.2" width="9.8" height="12" fill="#fff" stroke="#b0b0b0" stroke-width="0.5" />
<line x1="398.9" y1="252.2" x2="404.2" y2="252.2" stroke="#888" stroke-width="0.6" />
<line x1="399.9" y1="255.2" x2="403.7" y2="255.2" stroke="#ccc" stroke-width="0.5" />
<line x1="398.9" y1="258.6" x2="404.7" y2="258.6" stroke="#777" stroke-width="0.6" />
<line x1="399.84" y1="261.0" x2="399.84" y2="272.5" stroke="#999" stroke-width="0.4" />
<line x1="404.25" y1="261.0" x2="404.25" y2="272.5" stroke="#999" stroke-width="0.4" />
<line x1="414.9" y1="247.6" x2="423.4" y2="247.6" stroke="#555" stroke-width="0.8" />
<rect x="413.9" y="249.2" width="10.5" height="12" fill="#fff" stroke="#b0b0b0" stroke-width="0.5" />
<line x1="415.9" y1="252.2" x2="421.9" y2="252.2" stroke="#888" stroke-width="0.6" />
<line x1="416.9" y1="255.2" x2="421.4" y2="255.2" stroke="#ccc" stroke-width="0.5" />
<line x1="415.9" y1="258.6" x2="422.4" y2="258.6" stroke="#777" stroke-width="0.6" />
<line x1="417.04999999999995" y1="261.0" x2="417.04999999999995" y2="272.5" stroke="#999" stroke-width="0.4" />
<line x1="421.775" y1="261.0" x2="421.775" y2="272.5" stroke="#999" stroke-width="0.4" />
<line x1="429.59999999999997" y1="247.6" x2="438.2" y2="247.6" stroke="#555" stroke-width="0.8" />
<rect x="428.59999999999997" y="249.2" width="10.6" height="12" fill="#fff" stroke="#b0b0b0" stroke-width="0.5" />
<line x1="430.59999999999997" y1="252.2" x2="436.7" y2="252.2" stroke="#888" stroke-width="0.6" />
<line x1="431.59999999999997" y1="255.2" x2="436.2" y2="255.2" stroke="#ccc" stroke-width="0.5" />
<line x1="430.59999999999997" y1="258.6" x2="437.2" y2="258.6" stroke="#777" stroke-width="0.6" />
<line x1="431.78" y1="261.0" x2="431.78" y2="272.5" stroke="#999" stroke-width="0.4" />
<line x1="436.54999999999995" y1="261.0" x2="436.54999999999995" y2="272.5" stroke="#999" stroke-width="0.4" />
<line x1="362" y1="264.4" x2="440.2" y2="264.4" stroke="#aaa" stroke-width="0.5" />
<line x1="369" y1="267.6" x2="440.2" y2="267.6" stroke="#888" stroke-width="0.55" />
<text x="362" y="268.6" font-size="2.9" fill="#222" text-anchor="start" font-family="Liberation Sans" font-weight="bold" textLength="6.3" lengthAdjust="spacingAndGlyphs">Fase 1</text>
<rect x="383.9" y="272.3" width="56.30000000000001" height="4.7" fill="#1d3524"/>
<rect x="385.4" y="272.90000000000003" width="4.90217391304348" height="3.5" fill="#3f6e4b"/>
<rect x="386.5510869565217" y="273.5" width="2.6" height="2.3" fill="#7aa988"/>
<rect x="391.3021739130435" y="272.90000000000003" width="4.90217391304348" height="3.5" fill="#3f6e4b"/>
<rect x="392.4532608695652" y="273.5" width="2.6" height="2.3" fill="#7aa988"/>
<rect x="397.2043478260869" y="272.90000000000003" width="4.90217391304348" height="3.5" fill="#3f6e4b"/>
<rect x="398.35543478260865" y="273.5" width="2.6" height="2.3" fill="#7aa988"/>
<rect x="406.6478260869565" y="272.90000000000003" width="4.90217391304348" height="3.5" fill="#3f6e4b"/>
<rect x="407.79891304347825" y="273.5" width="2.6" height="2.3" fill="#7aa988"/>
<rect x="412.54999999999995" y="272.90000000000003" width="4.90217391304348" height="3.5" fill="#3f6e4b"/>
<rect x="413.7010869565217" y="273.5" width="2.6" height="2.3" fill="#7aa988"/>
<rect x="421.99347826086955" y="272.90000000000003" width="4.90217391304348" height="3.5" fill="#3f6e4b"/>
<rect x="423.1445652173913" y="273.5" width="2.6" height="2.3" fill="#7aa988"/>
<rect x="427.89565217391305" y="272.90000000000003" width="4.90217391304348" height="3.5" fill="#3f6e4b"/>
<rect x="429.0467391304348" y="273.5" width="2.6" height="2.3" fill="#7aa988"/>
<rect x="433.7978260869565" y="272.90000000000003" width="4.90217391304348" height="3.5" fill="#3f6e4b"/>
<rect x="434.9489130434782" y="273.5" width="2.6" height="2.3" fill="#7aa988"/>
<rect x="383.9" y="276.8" width="56.30000000000001" height="3.5" fill="#d2d5d3"/>
<rect x="383.9" y="280.3" width="56.30000000000001" height="15.3" fill="#282a2b"/>
<rect x="384.9" y="280.6" width="54.30000000000001" height="1.2" fill="#3c3e40"/>
<rect x="385.4" y="287.8" width="7" height="2" fill="#b8b8b8"/>
<rect x="385.4" y="290.8" width="9" height="0.8" fill="#777"/>
<path d="M413.176,286.3 h6.756000000000001 M417.68,285.3 v4 M422.18399999999997,287.3 h7.882000000000002 M426.125,285.3 v5" stroke="#9a9a9a" stroke-width="0.6"/>
<rect x="383.9" y="295.6" width="56.30000000000001" height="3.4" fill="#cdcdcd"/>
<rect x="383.9" y="299.0" width="56.30000000000001" height="3.8" fill="#1d3324"/>
<rect x="402.479" y="299.0" width="0.8" height="3.8" fill="#888"/>
<rect x="421.058" y="299.0" width="0.8" height="3.8" fill="#888"/>
<line x1="472.3" y1="247.2" x2="482.90000000000003" y2="247.2" stroke="#555" stroke-width="0.8" />
<rect x="471.3" y="248.79999999999998" width="12.6" height="12" fill="#fff" stroke="#b0b0b0" stroke-width="0.5" />
<line x1="473.3" y1="251.79999999999998" x2="481.40000000000003" y2="251.79999999999998" stroke="#888" stroke-width="0.6" />
<line x1="474.3" y1="254.79999999999998" x2="480.90000000000003" y2="254.79999999999998" stroke="#ccc" stroke-width="0.5" />
<line x1="473.3" y1="258.2" x2="481.90000000000003" y2="258.2" stroke="#777" stroke-width="0.6" />
<line x1="475.08" y1="260.6" x2="475.08" y2="272.1" stroke="#999" stroke-width="0.4" />
<line x1="480.75" y1="260.6" x2="480.75" y2="272.1" stroke="#999" stroke-width="0.4" />
<line x1="488.90000000000003" y1="247.2" x2="498.3" y2="247.2" stroke="#555" stroke-width="0.8" />
<rect x="487.90000000000003" y="248.79999999999998" width="11.4" height="12" fill="#fff" stroke="#b0b0b0" stroke-width="0.5" />
<line x1="489.90000000000003" y1="251.79999999999998" x2="496.8" y2="251.79999999999998" stroke="#888" stroke-width="0.6" />
<line x1="490.90000000000003" y1="254.79999999999998" x2="496.3" y2="254.79999999999998" stroke="#ccc" stroke-width="0.5" />
<line x1="489.90000000000003" y1="258.2" x2="497.3" y2="258.2" stroke="#777" stroke-width="0.6" />
<line x1="491.32000000000005" y1="260.6" x2="491.32000000000005" y2="272.1" stroke="#999" stroke-width="0.4" />
<line x1="496.45000000000005" y1="260.6" x2="496.45000000000005" y2="272.1" stroke="#999" stroke-width="0.4" />
<line x1="505.5" y1="247.2" x2="514.9" y2="247.2" stroke="#555" stroke-width="0.8" />
<rect x="504.5" y="248.79999999999998" width="11.4" height="12" fill="#fff" stroke="#b0b0b0" stroke-width="0.5" />
<line x1="506.5" y1="251.79999999999998" x2="513.4" y2="251.79999999999998" stroke="#888" stroke-width="0.6" />
<line x1="507.5" y1="254.79999999999998" x2="512.9" y2="254.79999999999998" stroke="#ccc" stroke-width="0.5" />
<line x1="506.5" y1="258.2" x2="513.9" y2="258.2" stroke="#777" stroke-width="0.6" />
<line x1="507.92" y1="260.6" x2="507.92" y2="272.1" stroke="#999" stroke-width="0.4" />
<line x1="513.05" y1="260.6" x2="513.05" y2="272.1" stroke="#999" stroke-width="0.4" />
<line x1="520.4" y1="247.2" x2="529.8" y2="247.2" stroke="#555" stroke-width="0.8" />
<rect x="519.4" y="248.79999999999998" width="11.4" height="12" fill="#fff" stroke="#b0b0b0" stroke-width="0.5" />
<line x1="521.4" y1="251.79999999999998" x2="528.3" y2="251.79999999999998" stroke="#888" stroke-width="0.6" />
<line x1="522.4" y1="254.79999999999998" x2="527.8" y2="254.79999999999998" stroke="#ccc" stroke-width="0.5" />
<line x1="521.4" y1="258.2" x2="528.8" y2="258.2" stroke="#777" stroke-width="0.6" />
<line x1="522.8199999999999" y1="260.6" x2="522.8199999999999" y2="272.1" stroke="#999" stroke-width="0.4" />
<line x1="527.9499999999999" y1="260.6" x2="527.9499999999999" y2="272.1" stroke="#999" stroke-width="0.4" />
<line x1="453.8" y1="264.0" x2="530.8" y2="264.0" stroke="#aaa" stroke-width="0.5" />
<line x1="460.8" y1="267.2" x2="530.8" y2="267.2" stroke="#888" stroke-width="0.55" />
<text x="453.8" y="268.2" font-size="2.9" fill="#222" text-anchor="start" font-family="Liberation Sans" font-weight="bold" textLength="6.3" lengthAdjust="spacingAndGlyphs">Fase 1</text>
<rect x="474.1" y="271.9" width="56.69999999999993" height="4.7" fill="#1d3524"/>
<rect x="475.6" y="272.5" width="4.945652173913037" height="3.5" fill="#3f6e4b"/>
<rect x="476.7728260869565" y="273.09999999999997" width="2.6" height="2.3" fill="#7aa988"/>
<rect x="481.5456521739131" y="272.5" width="4.945652173913037" height="3.5" fill="#3f6e4b"/>
<rect x="482.7184782608696" y="273.09999999999997" width="2.6" height="2.3" fill="#7aa988"/>
<rect x="487.4913043478261" y="272.5" width="4.945652173913037" height="3.5" fill="#3f6e4b"/>
<rect x="488.6641304347826" y="273.09999999999997" width="2.6" height="2.3" fill="#7aa988"/>
<rect x="497.0043478260869" y="272.5" width="4.945652173913037" height="3.5" fill="#3f6e4b"/>
<rect x="498.1771739130434" y="273.09999999999997" width="2.6" height="2.3" fill="#7aa988"/>
<rect x="502.95" y="272.5" width="4.945652173913037" height="3.5" fill="#3f6e4b"/>
<rect x="504.1228260869565" y="273.09999999999997" width="2.6" height="2.3" fill="#7aa988"/>
<rect x="512.4630434782608" y="272.5" width="4.945652173913037" height="3.5" fill="#3f6e4b"/>
<rect x="513.6358695652174" y="273.09999999999997" width="2.6" height="2.3" fill="#7aa988"/>
<rect x="518.408695652174" y="272.5" width="4.945652173913037" height="3.5" fill="#3f6e4b"/>
<rect x="519.5815217391305" y="273.09999999999997" width="2.6" height="2.3" fill="#7aa988"/>
<rect x="524.354347826087" y="272.5" width="4.945652173913037" height="3.5" fill="#3f6e4b"/>
<rect x="525.5271739130435" y="273.09999999999997" width="2.6" height="2.3" fill="#7aa988"/>
<rect x="474.1" y="276.4" width="56.69999999999993" height="3.5" fill="#d2d5d3"/>
<rect x="474.1" y="279.9" width="56.69999999999993" height="15.3" fill="#282a2b"/>
<rect x="475.1" y="280.2" width="54.69999999999993" height="1.2" fill="#3c3e40"/>
<rect x="475.6" y="287.4" width="7" height="2" fill="#b8b8b8"/>
<rect x="475.6" y="290.4" width="9" height="0.8" fill="#777"/>
<path d="M503.584,285.9 h6.803999999999991 M508.12,284.9 v4 M512.656,286.9 h7.937999999999991 M516.625,284.9 v5" stroke="#9a9a9a" stroke-width="0.6"/>
<rect x="474.1" y="295.2" width="56.69999999999993" height="3.4" fill="#cdcdcd"/>
<rect x="474.1" y="298.59999999999997" width="56.69999999999993" height="3.8" fill="#1d3324"/>
<rect x="492.811" y="298.59999999999997" width="0.8" height="3.8" fill="#888"/>
<rect x="511.522" y="298.59999999999997" width="0.8" height="3.8" fill="#888"/>
<line x1="560.8" y1="247.2" x2="569.3" y2="247.2" stroke="#555" stroke-width="0.8" />
<rect x="559.8" y="248.79999999999998" width="10.5" height="12" fill="#fff" stroke="#b0b0b0" stroke-width="0.5" />
<line x1="561.8" y1="251.79999999999998" x2="567.8" y2="251.79999999999998" stroke="#888" stroke-width="0.6" />
<line x1="562.8" y1="254.79999999999998" x2="567.3" y2="254.79999999999998" stroke="#ccc" stroke-width="0.5" />
<line x1="561.8" y1="258.2" x2="568.3" y2="258.2" stroke="#777" stroke-width="0.6" />
<line x1="562.9499999999999" y1="260.6" x2="562.9499999999999" y2="272.1" stroke="#999" stroke-width="0.4" />
<line x1="567.675" y1="260.6" x2="567.675" y2="272.1" stroke="#999" stroke-width="0.4" />
<line x1="575.3" y1="247.2" x2="583.8" y2="247.2" stroke="#555" stroke-width="0.8" />
<rect x="574.3" y="248.79999999999998" width="10.5" height="12" fill="#fff" stroke="#b0b0b0" stroke-width="0.5" />
<line x1="576.3" y1="251.79999999999998" x2="582.3" y2="251.79999999999998" stroke="#888" stroke-width="0.6" />
<line x1="577.3" y1="254.79999999999998" x2="581.8" y2="254.79999999999998" stroke="#ccc" stroke-width="0.5" />
<line x1="576.3" y1="258.2" x2="582.8" y2="258.2" stroke="#777" stroke-width="0.6" />
<line x1="577.4499999999999" y1="260.6" x2="577.4499999999999" y2="272.1" stroke="#999" stroke-width="0.4" />
<line x1="582.175" y1="260.6" x2="582.175" y2="272.1" stroke="#999" stroke-width="0.4" />
<line x1="591.8" y1="247.2" x2="600.3" y2="247.2" stroke="#555" stroke-width="0.8" />
<rect x="590.8" y="248.79999999999998" width="10.5" height="12" fill="#fff" stroke="#b0b0b0" stroke-width="0.5" />
<line x1="592.8" y1="251.79999999999998" x2="598.8" y2="251.79999999999998" stroke="#888" stroke-width="0.6" />
<line x1="593.8" y1="254.79999999999998" x2="598.3" y2="254.79999999999998" stroke="#ccc" stroke-width="0.5" />
<line x1="592.8" y1="258.2" x2="599.3" y2="258.2" stroke="#777" stroke-width="0.6" />
<line x1="593.9499999999999" y1="260.6" x2="593.9499999999999" y2="272.1" stroke="#999" stroke-width="0.4" />
<line x1="598.675" y1="260.6" x2="598.675" y2="272.1" stroke="#999" stroke-width="0.4" />
<line x1="606.8" y1="247.2" x2="615.3" y2="247.2" stroke="#555" stroke-width="0.8" />
<rect x="605.8" y="248.79999999999998" width="10.5" height="12" fill="#fff" stroke="#b0b0b0" stroke-width="0.5" />
<line x1="607.8" y1="251.79999999999998" x2="613.8" y2="251.79999999999998" stroke="#888" stroke-width="0.6" />
<line x1="608.8" y1="254.79999999999998" x2="613.3" y2="254.79999999999998" stroke="#ccc" stroke-width="0.5" />
<line x1="607.8" y1="258.2" x2="614.3" y2="258.2" stroke="#777" stroke-width="0.6" />
<line x1="608.9499999999999" y1="260.6" x2="608.9499999999999" y2="272.1" stroke="#999" stroke-width="0.4" />
<line x1="613.675" y1="260.6" x2="613.675" y2="272.1" stroke="#999" stroke-width="0.4" />
<line x1="619.8" y1="247.2" x2="629.8" y2="247.2" stroke="#555" stroke-width="0.8" />
<rect x="618.8" y="248.79999999999998" width="12" height="12" fill="#fff" stroke="#b0b0b0" stroke-width="0.5" />
<line x1="620.8" y1="251.79999999999998" x2="628.3" y2="251.79999999999998" stroke="#888" stroke-width="0.6" />
<line x1="621.8" y1="254.79999999999998" x2="627.8" y2="254.79999999999998" stroke="#ccc" stroke-width="0.5" />
<line x1="620.8" y1="258.2" x2="628.8" y2="258.2" stroke="#777" stroke-width="0.6" />
<line x1="622.4" y1="260.6" x2="622.4" y2="272.1" stroke="#999" stroke-width="0.4" />
<line x1="627.8" y1="260.6" x2="627.8" y2="272.1" stroke="#999" stroke-width="0.4" />
<line x1="541.5" y1="264.0" x2="618" y2="264.0" stroke="#aaa" stroke-width="0.5" />
<line x1="548.5" y1="267.2" x2="618" y2="267.2" stroke="#888" stroke-width="0.55" />
<text x="541.5" y="268.2" font-size="2.9" fill="#222" text-anchor="start" font-family="Liberation Sans" font-weight="bold" textLength="6.3" lengthAdjust="spacingAndGlyphs">Fase 1</text>
<rect x="561.8" y="271.9" width="56.200000000000045" height="4.7" fill="#1d3524"/>
<rect x="563.3" y="272.5" width="4.891304347826092" height="3.5" fill="#3f6e4b"/>
<rect x="564.445652173913" y="273.09999999999997" width="2.6" height="2.3" fill="#7aa988"/>
<rect x="569.1913043478261" y="272.5" width="4.891304347826092" height="3.5" fill="#3f6e4b"/>
<rect x="570.3369565217391" y="273.09999999999997" width="2.6" height="2.3" fill="#7aa988"/>
<rect x="575.0826086956521" y="272.5" width="4.891304347826092" height="3.5" fill="#3f6e4b"/>
<rect x="576.2282608695651" y="273.09999999999997" width="2.6" height="2.3" fill="#7aa988"/>
<rect x="584.5086956521739" y="272.5" width="4.891304347826092" height="3.5" fill="#3f6e4b"/>
<rect x="585.6543478260869" y="273.09999999999997" width="2.6" height="2.3" fill="#7aa988"/>
<rect x="590.4" y="272.5" width="4.891304347826092" height="3.5" fill="#3f6e4b"/>
<rect x="591.545652173913" y="273.09999999999997" width="2.6" height="2.3" fill="#7aa988"/>
<rect x="599.8260869565217" y="272.5" width="4.891304347826092" height="3.5" fill="#3f6e4b"/>
<rect x="600.9717391304348" y="273.09999999999997" width="2.6" height="2.3" fill="#7aa988"/>
<rect x="605.7173913043479" y="272.5" width="4.891304347826092" height="3.5" fill="#3f6e4b"/>
<rect x="606.8630434782609" y="273.09999999999997" width="2.6" height="2.3" fill="#7aa988"/>
<rect x="611.6086956521739" y="272.5" width="4.891304347826092" height="3.5" fill="#3f6e4b"/>
<rect x="612.7543478260869" y="273.09999999999997" width="2.6" height="2.3" fill="#7aa988"/>
<rect x="561.8" y="276.4" width="56.200000000000045" height="3.5" fill="#d2d5d3"/>
<rect x="561.8" y="279.9" width="56.200000000000045" height="15.3" fill="#282a2b"/>
<rect x="562.8" y="280.2" width="54.200000000000045" height="1.2" fill="#3c3e40"/>
<rect x="563.3" y="287.4" width="7" height="2" fill="#b8b8b8"/>
<rect x="563.3" y="290.4" width="9" height="0.8" fill="#777"/>
<path d="M591.024,285.9 h6.744000000000005 M595.52,284.9 v4 M600.016,286.9 h7.868000000000007 M603.95,284.9 v5" stroke="#9a9a9a" stroke-width="0.6"/>
<rect x="561.8" y="295.2" width="56.200000000000045" height="3.4" fill="#cdcdcd"/>
<rect x="561.8" y="298.59999999999997" width="56.200000000000045" height="3.8" fill="#1d3324"/>
<rect x="580.346" y="298.59999999999997" width="0.8" height="3.8" fill="#888"/>
<rect x="598.8919999999999" y="298.59999999999997" width="0.8" height="3.8" fill="#888"/>
<line x1="472.3" y1="336.20000000000005" x2="482.90000000000003" y2="336.20000000000005" stroke="#555" stroke-width="0.8" />
<rect x="471.3" y="337.8" width="12.6" height="12" fill="#fff" stroke="#b0b0b0" stroke-width="0.5" />
<line x1="473.3" y1="340.8" x2="481.40000000000003" y2="340.8" stroke="#888" stroke-width="0.6" />
<line x1="474.3" y1="343.8" x2="480.90000000000003" y2="343.8" stroke="#ccc" stroke-width="0.5" />
<line x1="473.3" y1="347.20000000000005" x2="481.90000000000003" y2="347.20000000000005" stroke="#777" stroke-width="0.6" />
<line x1="475.08" y1="349.6" x2="475.08" y2="361.1" stroke="#999" stroke-width="0.4" />
<line x1="480.75" y1="349.6" x2="480.75" y2="361.1" stroke="#999" stroke-width="0.4" />
<line x1="488.90000000000003" y1="336.20000000000005" x2="498.3" y2="336.20000000000005" stroke="#555" stroke-width="0.8" />
<rect x="487.90000000000003" y="337.8" width="11.4" height="12" fill="#fff" stroke="#b0b0b0" stroke-width="0.5" />
<line x1="489.90000000000003" y1="340.8" x2="496.8" y2="340.8" stroke="#888" stroke-width="0.6" />
<line x1="490.90000000000003" y1="343.8" x2="496.3" y2="343.8" stroke="#ccc" stroke-width="0.5" />
<line x1="489.90000000000003" y1="347.20000000000005" x2="497.3" y2="347.20000000000005" stroke="#777" stroke-width="0.6" />
<line x1="491.32000000000005" y1="349.6" x2="491.32000000000005" y2="361.1" stroke="#999" stroke-width="0.4" />
<line x1="496.45000000000005" y1="349.6" x2="496.45000000000005" y2="361.1" stroke="#999" stroke-width="0.4" />
<line x1="505.5" y1="336.20000000000005" x2="514.9" y2="336.20000000000005" stroke="#555" stroke-width="0.8" />
<rect x="504.5" y="337.8" width="11.4" height="12" fill="#fff" stroke="#b0b0b0" stroke-width="0.5" />
<line x1="506.5" y1="340.8" x2="513.4" y2="340.8" stroke="#888" stroke-width="0.6" />
<line x1="507.5" y1="343.8" x2="512.9" y2="343.8" stroke="#ccc" stroke-width="0.5" />
<line x1="506.5" y1="347.20000000000005" x2="513.9" y2="347.20000000000005" stroke="#777" stroke-width="0.6" />
<line x1="507.92" y1="349.6" x2="507.92" y2="361.1" stroke="#999" stroke-width="0.4" />
<line x1="513.05" y1="349.6" x2="513.05" y2="361.1" stroke="#999" stroke-width="0.4" />
<line x1="520.4" y1="336.20000000000005" x2="529.8" y2="336.20000000000005" stroke="#555" stroke-width="0.8" />
<rect x="519.4" y="337.8" width="11.4" height="12" fill="#fff" stroke="#b0b0b0" stroke-width="0.5" />
<line x1="521.4" y1="340.8" x2="528.3" y2="340.8" stroke="#888" stroke-width="0.6" />
<line x1="522.4" y1="343.8" x2="527.8" y2="343.8" stroke="#ccc" stroke-width="0.5" />
<line x1="521.4" y1="347.20000000000005" x2="528.8" y2="347.20000000000005" stroke="#777" stroke-width="0.6" />
<line x1="522.8199999999999" y1="349.6" x2="522.8199999999999" y2="361.1" stroke="#999" stroke-width="0.4" />
<line x1="527.9499999999999" y1="349.6" x2="527.9499999999999" y2="361.1" stroke="#999" stroke-width="0.4" />
<line x1="452.1" y1="353.0" x2="530.8" y2="353.0" stroke="#aaa" stroke-width="0.5" />
<line x1="459.1" y1="356.20000000000005" x2="530.8" y2="356.20000000000005" stroke="#888" stroke-width="0.55" />
<text x="452.1" y="357.20000000000005" font-size="2.9" fill="#222" text-anchor="start" font-family="Liberation Sans" font-weight="bold" textLength="6.3" lengthAdjust="spacingAndGlyphs">Fase 1</text>
<rect x="474.1" y="360.90000000000003" width="56.69999999999993" height="4.7" fill="#1d3524"/>
<rect x="475.6" y="361.50000000000006" width="4.945652173913037" height="3.5" fill="#3f6e4b"/>
<rect x="476.7728260869565" y="362.1" width="2.6" height="2.3" fill="#7aa988"/>
<rect x="481.5456521739131" y="361.50000000000006" width="4.945652173913037" height="3.5" fill="#3f6e4b"/>
<rect x="482.7184782608696" y="362.1" width="2.6" height="2.3" fill="#7aa988"/>
<rect x="487.4913043478261" y="361.50000000000006" width="4.945652173913037" height="3.5" fill="#3f6e4b"/>
<rect x="488.6641304347826" y="362.1" width="2.6" height="2.3" fill="#7aa988"/>
<rect x="497.0043478260869" y="361.50000000000006" width="4.945652173913037" height="3.5" fill="#3f6e4b"/>
<rect x="498.1771739130434" y="362.1" width="2.6" height="2.3" fill="#7aa988"/>
<rect x="502.95" y="361.50000000000006" width="4.945652173913037" height="3.5" fill="#3f6e4b"/>
<rect x="504.1228260869565" y="362.1" width="2.6" height="2.3" fill="#7aa988"/>
<rect x="512.4630434782608" y="361.50000000000006" width="4.945652173913037" height="3.5" fill="#3f6e4b"/>
<rect x="513.6358695652174" y="362.1" width="2.6" height="2.3" fill="#7aa988"/>
<rect x="518.408695652174" y="361.50000000000006" width="4.945652173913037" height="3.5" fill="#3f6e4b"/>
<rect x="519.5815217391305" y="362.1" width="2.6" height="2.3" fill="#7aa988"/>
<rect x="524.354347826087" y="361.50000000000006" width="4.945652173913037" height="3.5" fill="#3f6e4b"/>
<rect x="525.5271739130435" y="362.1" width="2.6" height="2.3" fill="#7aa988"/>
<rect x="474.1" y="365.40000000000003" width="56.69999999999993" height="3.5" fill="#d2d5d3"/>
<rect x="474.1" y="368.90000000000003" width="56.69999999999993" height="15.3" fill="#282a2b"/>
<rect x="475.1" y="369.20000000000005" width="54.69999999999993" height="1.2" fill="#3c3e40"/>
<rect x="475.6" y="376.40000000000003" width="7" height="2" fill="#b8b8b8"/>
<rect x="475.6" y="379.40000000000003" width="9" height="0.8" fill="#777"/>
<path d="M503.584,374.90000000000003 h6.803999999999991 M508.12,373.90000000000003 v4 M512.656,375.90000000000003 h7.937999999999991 M516.625,373.90000000000003 v5" stroke="#9a9a9a" stroke-width="0.6"/>
<rect x="474.1" y="384.20000000000005" width="56.69999999999993" height="3.4" fill="#cdcdcd"/>
<rect x="474.1" y="387.6" width="56.69999999999993" height="3.8" fill="#1d3324"/>
<rect x="492.811" y="387.6" width="0.8" height="3.8" fill="#888"/>
<rect x="511.522" y="387.6" width="0.8" height="3.8" fill="#888"/>
<line x1="560.8" y1="336.20000000000005" x2="569.3" y2="336.20000000000005" stroke="#555" stroke-width="0.8" />
<rect x="559.8" y="337.8" width="10.5" height="12" fill="#fff" stroke="#b0b0b0" stroke-width="0.5" />
<line x1="561.8" y1="340.8" x2="567.8" y2="340.8" stroke="#888" stroke-width="0.6" />
<line x1="562.8" y1="343.8" x2="567.3" y2="343.8" stroke="#ccc" stroke-width="0.5" />
<line x1="561.8" y1="347.20000000000005" x2="568.3" y2="347.20000000000005" stroke="#777" stroke-width="0.6" />
<line x1="562.9499999999999" y1="349.6" x2="562.9499999999999" y2="361.1" stroke="#999" stroke-width="0.4" />
<line x1="567.675" y1="349.6" x2="567.675" y2="361.1" stroke="#999" stroke-width="0.4" />
<line x1="575.3" y1="336.20000000000005" x2="583.8" y2="336.20000000000005" stroke="#555" stroke-width="0.8" />
<rect x="574.3" y="337.8" width="10.5" height="12" fill="#fff" stroke="#b0b0b0" stroke-width="0.5" />
<line x1="576.3" y1="340.8" x2="582.3" y2="340.8" stroke="#888" stroke-width="0.6" />
<line x1="577.3" y1="343.8" x2="581.8" y2="343.8" stroke="#ccc" stroke-width="0.5" />
<line x1="576.3" y1="347.20000000000005" x2="582.8" y2="347.20000000000005" stroke="#777" stroke-width="0.6" />
<line x1="577.4499999999999" y1="349.6" x2="577.4499999999999" y2="361.1" stroke="#999" stroke-width="0.4" />
<line x1="582.175" y1="349.6" x2="582.175" y2="361.1" stroke="#999" stroke-width="0.4" />
<line x1="591.8" y1="336.20000000000005" x2="600.3" y2="336.20000000000005" stroke="#555" stroke-width="0.8" />
<rect x="590.8" y="337.8" width="10.5" height="12" fill="#fff" stroke="#b0b0b0" stroke-width="0.5" />
<line x1="592.8" y1="340.8" x2="598.8" y2="340.8" stroke="#888" stroke-width="0.6" />
<line x1="593.8" y1="343.8" x2="598.3" y2="343.8" stroke="#ccc" stroke-width="0.5" />
<line x1="592.8" y1="347.20000000000005" x2="599.3" y2="347.20000000000005" stroke="#777" stroke-width="0.6" />
<line x1="593.9499999999999" y1="349.6" x2="593.9499999999999" y2="361.1" stroke="#999" stroke-width="0.4" />
<line x1="598.675" y1="349.6" x2="598.675" y2="361.1" stroke="#999" stroke-width="0.4" />
<line x1="606.8" y1="336.20000000000005" x2="615.3" y2="336.20000000000005" stroke="#555" stroke-width="0.8" />
<rect x="605.8" y="337.8" width="10.5" height="12" fill="#fff" stroke="#b0b0b0" stroke-width="0.5" />
<line x1="607.8" y1="340.8" x2="613.8" y2="340.8" stroke="#888" stroke-width="0.6" />
<line x1="608.8" y1="343.8" x2="613.3" y2="343.8" stroke="#ccc" stroke-width="0.5" />
<line x1="607.8" y1="347.20000000000005" x2="614.3" y2="347.20000000000005" stroke="#777" stroke-width="0.6" />
<line x1="608.9499999999999" y1="349.6" x2="608.9499999999999" y2="361.1" stroke="#999" stroke-width="0.4" />
<line x1="613.675" y1="349.6" x2="613.675" y2="361.1" stroke="#999" stroke-width="0.4" />
<line x1="541.5" y1="353.0" x2="618" y2="353.0" stroke="#aaa" stroke-width="0.5" />
<line x1="548.5" y1="356.20000000000005" x2="618" y2="356.20000000000005" stroke="#888" stroke-width="0.55" />
<text x="541.5" y="357.20000000000005" font-size="2.9" fill="#222" text-anchor="start" font-family="Liberation Sans" font-weight="bold" textLength="6.3" lengthAdjust="spacingAndGlyphs">Fase 1</text>
<rect x="561.8" y="360.90000000000003" width="56.200000000000045" height="4.7" fill="#1d3524"/>
<rect x="563.3" y="361.50000000000006" width="4.891304347826092" height="3.5" fill="#3f6e4b"/>
<rect x="564.445652173913" y="362.1" width="2.6" height="2.3" fill="#7aa988"/>
<rect x="569.1913043478261" y="361.50000000000006" width="4.891304347826092" height="3.5" fill="#3f6e4b"/>
<rect x="570.3369565217391" y="362.1" width="2.6" height="2.3" fill="#7aa988"/>
<rect x="575.0826086956521" y="361.50000000000006" width="4.891304347826092" height="3.5" fill="#3f6e4b"/>
<rect x="576.2282608695651" y="362.1" width="2.6" height="2.3" fill="#7aa988"/>
<rect x="584.5086956521739" y="361.50000000000006" width="4.891304347826092" height="3.5" fill="#3f6e4b"/>
<rect x="585.6543478260869" y="362.1" width="2.6" height="2.3" fill="#7aa988"/>
<rect x="590.4" y="361.50000000000006" width="4.891304347826092" height="3.5" fill="#3f6e4b"/>
<rect x="591.545652173913" y="362.1" width="2.6" height="2.3" fill="#7aa988"/>
<rect x="599.8260869565217" y="361.50000000000006" width="4.891304347826092" height="3.5" fill="#3f6e4b"/>
<rect x="600.9717391304348" y="362.1" width="2.6" height="2.3" fill="#7aa988"/>
<rect x="605.7173913043479" y="361.50000000000006" width="4.891304347826092" height="3.5" fill="#3f6e4b"/>
<rect x="606.8630434782609" y="362.1" width="2.6" height="2.3" fill="#7aa988"/>
<rect x="611.6086956521739" y="361.50000000000006" width="4.891304347826092" height="3.5" fill="#3f6e4b"/>
<rect x="612.7543478260869" y="362.1" width="2.6" height="2.3" fill="#7aa988"/>
<rect x="561.8" y="365.40000000000003" width="56.200000000000045" height="3.5" fill="#d2d5d3"/>
<rect x="561.8" y="368.90000000000003" width="56.200000000000045" height="15.3" fill="#282a2b"/>
<rect x="562.8" y="369.20000000000005" width="54.200000000000045" height="1.2" fill="#3c3e40"/>
<rect x="563.3" y="376.40000000000003" width="7" height="2" fill="#b8b8b8"/>
<rect x="563.3" y="379.40000000000003" width="9" height="0.8" fill="#777"/>
<path d="M591.024,374.90000000000003 h6.744000000000005 M595.52,373.90000000000003 v4 M600.016,375.90000000000003 h7.868000000000007 M603.95,373.90000000000003 v5" stroke="#9a9a9a" stroke-width="0.6"/>
<rect x="561.8" y="384.20000000000005" width="56.200000000000045" height="3.4" fill="#cdcdcd"/>
<rect x="561.8" y="387.6" width="56.200000000000045" height="3.8" fill="#1d3324"/>
<rect x="580.346" y="387.6" width="0.8" height="3.8" fill="#888"/>
<rect x="598.8919999999999" y="387.6" width="0.8" height="3.8" fill="#888"/>
<rect x="360.1" y="335.75" width="65.7" height="21.5" fill="#fff" stroke="#bbb" stroke-width="0.5" />
<text x="361.5" y="339.7" font-size="2.5" fill="#2a2a2a" text-anchor="start" font-family="Liberation Sans" textLength="46" lengthAdjust="spacingAndGlyphs">2 Zonas (cap) transformadas en cine</text>
<text x="361.5" y="342.95" font-size="2.5" fill="#2a2a2a" text-anchor="start" font-family="Liberation Sans" textLength="47" lengthAdjust="spacingAndGlyphs">2 Cajas InFinder 8 transformadas sin cine</text>
<text x="361.5" y="346.2" font-size="2.5" fill="#2a2a2a" text-anchor="start" font-family="Liberation Sans" textLength="47" lengthAdjust="spacingAndGlyphs">2 Cajas InFinder 6 transformadas sin cine</text>
<text x="361.5" y="349.45" font-size="2.5" fill="#2a2a2a" text-anchor="start" font-family="Liberation Sans" textLength="46" lengthAdjust="spacingAndGlyphs">2 Cajas Rack 4K Transformadas en cine</text>
<text x="361.5" y="352.7" font-size="2.5" fill="#2a2a2a" text-anchor="start" font-family="Liberation Sans" textLength="47" lengthAdjust="spacingAndGlyphs">20 kanal Cable 8B transformadas sin cine</text>
<text x="361.5" y="355.95" font-size="2.5" fill="#2a2a2a" text-anchor="start" font-family="Liberation Sans" textLength="63" lengthAdjust="spacingAndGlyphs">Mi Entorno 8 Fase transformadas 3 transformadas sin cine</text>
<rect x="386.2" y="361.2" width="58.5" height="4.8" fill="#1d2621"/>
<rect x="386.2" y="361.2" width="18.8" height="4.8" fill="#6e8c77"/>
<rect x="387.2" y="361.8" width="7.8" height="3.6" fill="#9fbfa8"/>
<rect x="396.0" y="361.8" width="7.8" height="3.6" fill="#9fbfa8"/>
<rect x="411.5" y="362.3" width="1.2" height="2.6" fill="#ccc"/><rect x="415.5" y="362.3" width="1.2" height="2.6" fill="#ccc"/>
<rect x="419.4" y="362" width="8" height="3.2" fill="#e0e0e0"/><rect x="421" y="362.6" width="1" height="2" fill="#333"/><rect x="424" y="362.6" width="1" height="2" fill="#333"/>
<rect x="438" y="362" width="1.2" height="3" fill="#bbb"/>
<rect x="386.2" y="366" width="58.5" height="4.2" fill="#d6d9d9"/>
<rect x="386.2" y="370.2" width="58.5" height="15.2" fill="#25292c"/>
<rect x="387.2" y="371" width="56.5" height="1" fill="#3a3f42"/>
<rect x="388" y="378" width="10" height="2.6" fill="#9a9a9a"/>
<rect x="388" y="381.5" width="7" height="0.8" fill="#666"/>
<path d="M410,374 h10 M416,376 v4 M419,377 v3 M422,377 v3 M425,376 h4 v4 M409,379 h6" stroke="#a0a0a0" stroke-width="0.6" fill="none"/>
<rect x="435" y="374.5" width="4.6" height="4.6" fill="none" stroke="#9a9a9a" stroke-width="0.7"/>
<rect x="386.2" y="385.4" width="58.5" height="3.9" fill="#cfd2d2"/>
<rect x="386.2" y="389.3" width="58.5" height="4" fill="#1b211d"/>
<rect x="405" y="389.3" width="0.8" height="4" fill="#999"/><rect x="425.6" y="389.3" width="0.8" height="4" fill="#999"/>
<rect x="407" y="390" width="17" height="2.6" fill="#27382c"/>
<rect x="413.8" y="393.8" width="3.2" height="2" fill="#6f9a7a"/>
<rect x="26.9" y="214.5" width="58.1" height="44.2" fill="#8d827e"/>
<polygon points="26.9,214.5 66,214.5 29.2,230.1 26.9,231" fill="#968a86"/>
<polygon points="29.2,230.1 65.6,215.2 81.8,236.6 67,248 56,252 44,240" fill="#2c2422"/>
<polygon points="29.2,230.1 44,226 46,236 52,247 60,254 44,241" fill="#4a3e3b"/>
<polygon points="43.5,226.5 52,222 62,221 70,229 72,236 66,244 60,250 52,246 46,236" fill="#5a4a47"/>
<polygon points="49,224 60,221 67,229 64,236 56,236 51,231" fill="#1d1716"/>
<polygon points="55,237 64,234 69,241 64,248 57,246" fill="#262020"/>
<circle cx="61" cy="241.3" r="2.3" fill="#3a3433"/>
<circle cx="60.8" cy="241" r="1.1" fill="#f0f0f0"/>
<polygon points="66,244 72,240 74,246 69,250" fill="#3a302e"/>
<text x="56" y="266.8" font-size="6.4" fill="#444" text-anchor="middle" font-family="Liberation Sans" textLength="44" lengthAdjust="spacingAndGlyphs">Ascensor orbital</text>
<text x="56" y="274.9" font-size="6.4" fill="#444" text-anchor="middle" font-family="Liberation Sans" textLength="29" lengthAdjust="spacingAndGlyphs">motorizado</text>
<line x1="0" y1="232.5" x2="27" y2="232.5" stroke="#666" stroke-width="0.8" />
<polyline points="27,238.7 3.2,238.7 3.2,378.6 25.9,378.6" fill="none" stroke="#666" stroke-width="0.8" />
<line x1="0" y1="382.9" x2="25.9" y2="382.9" stroke="#666" stroke-width="0.8" />
<rect x="167.2" y="260.1" width="75" height="5.7" fill="#dcdcdc" stroke="#bbb" stroke-width="0.5"/>
<rect x="170.8" y="265.8" width="66.9" height="51.8" fill="#111"/>
<rect x="173.2" y="266.5" width="62" height="15" fill="#262626"/>
<rect x="173" y="281.3" width="62.7" height="34.8" fill="#636363"/>
<text x="204" y="327.5" font-size="6.8" fill="#3a3a3a" text-anchor="middle" font-family="Liberation Sans" textLength="60" lengthAdjust="spacingAndGlyphs">Telón Elunevision 120"</text>
<polygon points="25.8,307.2 37,307.2 31.4,297.7" fill="#1fcc2a"/>
<rect x="25.9" y="311.4" width="75.6" height="82.60000000000002" fill="none" stroke="#8a8a8a" stroke-width="0.8" />
<line x1="25.9" y1="315.7" x2="101.5" y2="315.7" stroke="#8a8a8a" stroke-width="0.8" />
<text x="63.7" y="315.19" font-size="4.14" fill="#505050" text-anchor="middle" font-family="Liberation Sans"  textLength="8.00" lengthAdjust="spacingAndGlyphs">MCE</text>
<rect x="56.6" y="315.7" width="14" height="78.30000000000001" fill="#f2f2f2"/>
<line x1="55.6" y1="315.7" x2="55.6" y2="394" stroke="#8a8a8a" stroke-width="0.8" />
<line x1="56.6" y1="315.7" x2="56.6" y2="394" stroke="#8a8a8a" stroke-width="0.8" />
<line x1="70.6" y1="315.7" x2="70.6" y2="394" stroke="#8a8a8a" stroke-width="0.8" />
<line x1="84.6" y1="315.7" x2="84.6" y2="394" stroke="#8a8a8a" stroke-width="0.8" />
<line x1="32.3" y1="315.7" x2="32.3" y2="327.6" stroke="#8a8a8a" stroke-width="0.8" />
<line x1="25.9" y1="321.6" x2="32.3" y2="321.6" stroke="#8a8a8a" stroke-width="0.8" />
<text x="29.1" y="320" font-size="2.97" fill="#505050" text-anchor="middle" font-family="Liberation Sans" >A</text>
<text x="29.1" y="326" font-size="2.97" fill="#505050" text-anchor="middle" font-family="Liberation Sans" >B</text>
<text x="44" y="323.17" font-size="3.73" fill="#505050" text-anchor="middle" font-family="Liberation Sans"  textLength="12.43" lengthAdjust="spacingAndGlyphs">Audio IN</text>
<line x1="25.9" y1="327.6" x2="55.6" y2="327.6" stroke="#8a8a8a" stroke-width="0.8" />
<text x="40.8" y="331.57" font-size="3.56" fill="#505050" text-anchor="middle" font-family="Liberation Sans"  textLength="7.92" lengthAdjust="spacingAndGlyphs">HDMI</text>
<line x1="25.9" y1="333" x2="55.6" y2="333" stroke="#8a8a8a" stroke-width="0.8" />
<text x="40.8" y="336.87" font-size="3.56" fill="#505050" text-anchor="middle" font-family="Liberation Sans"  textLength="8.96" lengthAdjust="spacingAndGlyphs">VGA 1</text>
<line x1="25.9" y1="338.2" x2="55.6" y2="338.2" stroke="#8a8a8a" stroke-width="0.8" />
<text x="40.8" y="342.22" font-size="3.56" fill="#505050" text-anchor="middle" font-family="Liberation Sans"  textLength="8.96" lengthAdjust="spacingAndGlyphs">VGA 2</text>
<line x1="25.9" y1="343.7" x2="55.6" y2="343.7" stroke="#8a8a8a" stroke-width="0.8" />
<text x="40.8" y="347.82" font-size="3.56" fill="#505050" text-anchor="middle" font-family="Liberation Sans"  textLength="6.03" lengthAdjust="spacingAndGlyphs">LAN</text>
<line x1="25.9" y1="349.4" x2="55.6" y2="349.4" stroke="#8a8a8a" stroke-width="0.8" />
<text x="40.8" y="353.42" font-size="3.56" fill="#505050" text-anchor="middle" font-family="Liberation Sans"  textLength="8.96" lengthAdjust="spacingAndGlyphs">USB 1</text>
<line x1="25.9" y1="354.9" x2="55.6" y2="354.9" stroke="#8a8a8a" stroke-width="0.8" />
<text x="40.8" y="359.12" font-size="3.56" fill="#505050" text-anchor="middle" font-family="Liberation Sans"  textLength="8.96" lengthAdjust="spacingAndGlyphs">USB 2</text>
<line x1="25.9" y1="360.8" x2="55.6" y2="360.8" stroke="#8a8a8a" stroke-width="0.8" />
<line x1="25.9" y1="375.8" x2="55.6" y2="375.8" stroke="#8a8a8a" stroke-width="0.8" />
<line x1="25.9" y1="386.5" x2="70.6" y2="386.5" stroke="#8a8a8a" stroke-width="0.8" />
<line x1="32.3" y1="360.8" x2="32.3" y2="386.5" stroke="#8a8a8a" stroke-width="0.8" />
<line x1="25.9" y1="365.8" x2="32.3" y2="365.8" stroke="#8a8a8a" stroke-width="0.8" />
<line x1="25.9" y1="370.8" x2="32.3" y2="370.8" stroke="#8a8a8a" stroke-width="0.8" />
<line x1="25.9" y1="381.1" x2="32.3" y2="381.1" stroke="#8a8a8a" stroke-width="0.8" />
<text x="29.1" y="364" font-size="2.7" fill="#505050" text-anchor="middle" font-family="Liberation Sans" >1</text>
<text x="29.1" y="369" font-size="2.7" fill="#505050" text-anchor="middle" font-family="Liberation Sans" >2</text>
<text x="29.1" y="374" font-size="2.7" fill="#505050" text-anchor="middle" font-family="Liberation Sans" >3</text>
<text x="29.1" y="379.5" font-size="2.7" fill="#505050" text-anchor="middle" font-family="Liberation Sans" >1</text>
<text x="29.1" y="384.8" font-size="2.7" fill="#505050" text-anchor="middle" font-family="Liberation Sans" >2</text>
<text x="44" y="369.17" font-size="3.56" fill="#505050" text-anchor="middle" font-family="Liberation Sans"  textLength="7.92" lengthAdjust="spacingAndGlyphs">HDMI</text>
<text x="44" y="382.17" font-size="3.56" fill="#505050" text-anchor="middle" font-family="Liberation Sans"  textLength="9.48" lengthAdjust="spacingAndGlyphs">RS232</text>
<line x1="70.6" y1="327.6" x2="101.5" y2="327.6" stroke="#8a8a8a" stroke-width="0.8" />
<line x1="84.6" y1="321.6" x2="101.5" y2="321.6" stroke="#8a8a8a" stroke-width="0.8" />
<text x="77.6" y="321.17" font-size="3.56" fill="#505050" text-anchor="middle" font-family="Liberation Sans"  textLength="7.93" lengthAdjust="spacingAndGlyphs">Audio</text>
<text x="77.6" y="325.17" font-size="3.56" fill="#505050" text-anchor="middle" font-family="Liberation Sans"  textLength="6.54" lengthAdjust="spacingAndGlyphs">OUT</text>
<text x="93" y="319.8" font-size="2.97" fill="#505050" text-anchor="middle" font-family="Liberation Sans" >L</text>
<text x="93" y="325.8" font-size="2.97" fill="#505050" text-anchor="middle" font-family="Liberation Sans" >R</text>
<line x1="84.6" y1="332.6" x2="101.5" y2="332.6" stroke="#8a8a8a" stroke-width="0.8" />
<line x1="84.6" y1="337.6" x2="101.5" y2="337.6" stroke="#8a8a8a" stroke-width="0.8" />
<line x1="84.6" y1="342.6" x2="101.5" y2="342.6" stroke="#8a8a8a" stroke-width="0.8" />
<line x1="70.6" y1="347.7" x2="101.5" y2="347.7" stroke="#8a8a8a" stroke-width="0.8" />
<text x="77.6" y="336.67" font-size="3.56" fill="#505050" text-anchor="middle" font-family="Liberation Sans"  textLength="7.87" lengthAdjust="spacingAndGlyphs">Video</text>
<text x="77.6" y="340.67" font-size="3.56" fill="#505050" text-anchor="middle" font-family="Liberation Sans"  textLength="6.54" lengthAdjust="spacingAndGlyphs">OUT</text>
<text x="93" y="331.4" font-size="2.84" fill="#505050" text-anchor="middle" font-family="Liberation Sans" >R</text>
<text x="93" y="336.55" font-size="3.27" fill="#505050" text-anchor="middle" font-family="Liberation Sans"  textLength="4.26" lengthAdjust="spacingAndGlyphs">Y/L</text>
<text x="93" y="341.4" font-size="2.84" fill="#505050" text-anchor="middle" font-family="Liberation Sans" >G</text>
<text x="93" y="346.4" font-size="2.84" fill="#505050" text-anchor="middle" font-family="Liberation Sans" textLength="12" lengthAdjust="spacingAndGlyphs">Composite</text>
<line x1="84.6" y1="352.8" x2="101.5" y2="352.8" stroke="#8a8a8a" stroke-width="0.8" />
<line x1="84.6" y1="357.9" x2="101.5" y2="357.9" stroke="#8a8a8a" stroke-width="0.8" />
<line x1="84.6" y1="363.0" x2="101.5" y2="363.0" stroke="#8a8a8a" stroke-width="0.8" />
<line x1="84.6" y1="368.09999999999997" x2="101.5" y2="368.09999999999997" stroke="#8a8a8a" stroke-width="0.8" />
<line x1="70.6" y1="373.2" x2="101.5" y2="373.2" stroke="#8a8a8a" stroke-width="0.8" />
<text x="77.6" y="361.57" font-size="3.56" fill="#505050" text-anchor="middle" font-family="Liberation Sans"  textLength="3.10" lengthAdjust="spacingAndGlyphs">IR</text>
<text x="77.6" y="384.67" font-size="3.56" fill="#505050" text-anchor="middle" font-family="Liberation Sans"  textLength="6.20" lengthAdjust="spacingAndGlyphs">RST</text>
<text x="93" y="351.8" font-size="2.84" fill="#505050" text-anchor="middle" font-family="Liberation Sans" >1</text>
<text x="93" y="356.90000000000003" font-size="2.84" fill="#505050" text-anchor="middle" font-family="Liberation Sans" >2</text>
<text x="93" y="362.0" font-size="2.84" fill="#505050" text-anchor="middle" font-family="Liberation Sans" >3</text>
<text x="93" y="367.1" font-size="2.84" fill="#505050" text-anchor="middle" font-family="Liberation Sans" >4</text>
<text x="93" y="372.2" font-size="2.84" fill="#505050" text-anchor="middle" font-family="Liberation Sans" >5</text>
<line x1="84.6" y1="378.4" x2="101.5" y2="378.4" stroke="#8a8a8a" stroke-width="0.8" />
<line x1="84.6" y1="383.59999999999997" x2="101.5" y2="383.59999999999997" stroke="#8a8a8a" stroke-width="0.8" />
<line x1="84.6" y1="388.8" x2="101.5" y2="388.8" stroke="#8a8a8a" stroke-width="0.8" />
<text x="93" y="377.35" font-size="3.27" fill="#505050" text-anchor="middle" font-family="Liberation Sans"  textLength="2.84" lengthAdjust="spacingAndGlyphs">IN</text>
<text x="93" y="382.55" font-size="3.27" fill="#505050" text-anchor="middle" font-family="Liberation Sans"  textLength="5.99" lengthAdjust="spacingAndGlyphs">OUT</text>
<text x="93" y="387.59999999999997" font-size="2.84" fill="#505050" text-anchor="middle" font-family="Liberation Sans" >+</text>
<text x="93" y="392.8" font-size="2.84" fill="#505050" text-anchor="middle" font-family="Liberation Sans" >-</text>
<line x1="105.5" y1="290" x2="105.5" y2="400" stroke="#e6e6e6" stroke-width="0.6" />
<rect x="123.4" y="343.9" width="40.6" height="8.100000000000023" fill="#fff" stroke="#999" stroke-width="0.7" />
<text x="143.7" y="349.34999999999997" font-size="3.9" fill="#3a3a3a" text-anchor="middle" font-family="Liberation Sans" textLength="26" lengthAdjust="spacingAndGlyphs">DirecTV CINE</text>
<rect x="123.4" y="355.8" width="40.6" height="8.099999999999966" fill="#fff" stroke="#999" stroke-width="0.7" />
<text x="143.7" y="361.25" font-size="3.9" fill="#3a3a3a" text-anchor="middle" font-family="Liberation Sans" textLength="25" lengthAdjust="spacingAndGlyphs">AppleTV CINE</text>
<rect x="123.4" y="366.7" width="40.6" height="12.900000000000034" fill="#fff" stroke="#999" stroke-width="0.7" />
<text x="143.7" y="372.65" font-size="3.9" fill="#3a3a3a" text-anchor="middle" font-family="Liberation Sans" textLength="31" lengthAdjust="spacingAndGlyphs">DirecTV CUARTO</text>
<text x="143.7" y="377.34999999999997" font-size="3.9" fill="#3a3a3a" text-anchor="middle" font-family="Liberation Sans" textLength="19" lengthAdjust="spacingAndGlyphs">PRINCIPAL</text>
<rect x="123.4" y="381.3" width="40.6" height="13.699999999999989" fill="#fff" stroke="#999" stroke-width="0.7" />
<text x="143.7" y="387.65" font-size="3.9" fill="#3a3a3a" text-anchor="middle" font-family="Liberation Sans" textLength="35" lengthAdjust="spacingAndGlyphs">TELEVISOR CUARTO</text>
<text x="143.7" y="392.34999999999997" font-size="3.9" fill="#3a3a3a" text-anchor="middle" font-family="Liberation Sans" textLength="19" lengthAdjust="spacingAndGlyphs">PRINCIPAL</text>
<polyline points="101.5,354.5 106.4,354.5 106.4,350.4 110.4,350.4 110.4,348 123.4,348" fill="none" stroke="#aaa" stroke-width="0.6" />
<polyline points="101.5,359.6 108,359.6 110,359.9 123.4,359.9" fill="none" stroke="#aaa" stroke-width="0.6" />
<polyline points="101.5,364.7 106,364.7 106,365.5 109,365.5 109,369 123.4,369" fill="none" stroke="#aaa" stroke-width="0.6" />
<polyline points="101.5,369.8 106,369.8 106,383 123.4,383" fill="none" stroke="#aaa" stroke-width="0.6" />
<polyline points="105.5,352 105.5,288.5 166.5,288.5" fill="none" stroke="#c4c4c4" stroke-width="0.7" />
</svg>
</body></html>
